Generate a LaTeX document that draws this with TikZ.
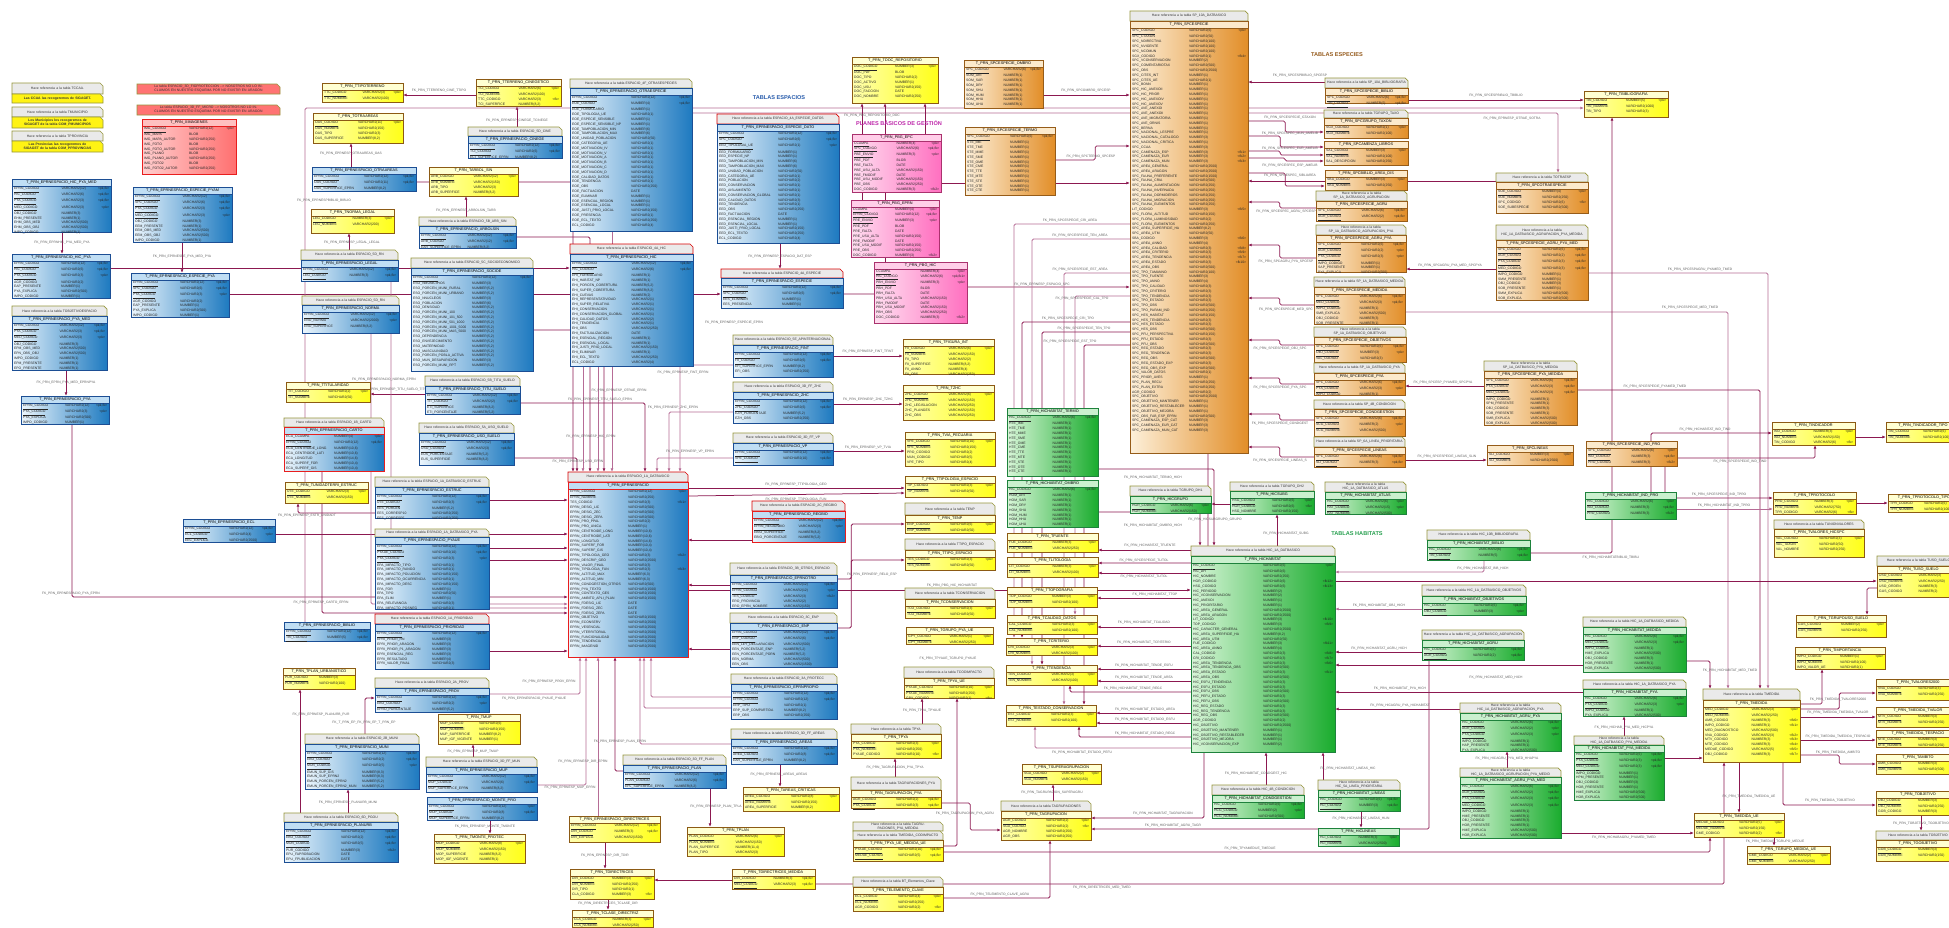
\documentclass[tikz,border=0pt]{standalone}
\usepackage{fontspec}
\setmainfont{Liberation Sans}
\usetikzlibrary{fit,arrows.meta}
\pgfdeclarelayer{bg}
\pgfsetlayers{bg,main}
\definecolor{blueL}{RGB}{236,246,253}\definecolor{blueD}{RGB}{30,122,192}\definecolor{blueH}{RGB}{192,222,244}\definecolor{blueB}{RGB}{28,78,148}
\colorlet{bluerL}{blueL}\colorlet{bluerD}{blueD}\colorlet{bluerH}{blueH}\definecolor{bluerB}{RGB}{232,30,30}
\definecolor{yelL}{RGB}{255,255,175}\definecolor{yelD}{RGB}{255,255,25}\definecolor{yelH}{RGB}{255,255,210}\definecolor{yelB}{RGB}{140,90,20}
\definecolor{orgL}{RGB}{253,240,218}\definecolor{orgD}{RGB}{226,142,40}\definecolor{orgH}{RGB}{252,234,204}\definecolor{orgB}{RGB}{150,92,25}
\definecolor{grnL}{RGB}{216,246,216}\definecolor{grnD}{RGB}{26,172,46}\definecolor{grnH}{RGB}{202,240,206}\definecolor{grnB}{RGB}{30,130,60}
\definecolor{pnkL}{RGB}{255,222,240}\definecolor{pnkD}{RGB}{255,112,192}\definecolor{pnkH}{RGB}{255,206,232}\definecolor{pnkB}{RGB}{170,50,110}
\definecolor{redL}{RGB}{255,206,206}\definecolor{redD}{RGB}{255,112,112}\definecolor{redH}{RGB}{255,192,192}\definecolor{redB}{RGB}{232,30,30}
\definecolor{notef}{RGB}{234,234,234}\definecolor{noteb}{RGB}{150,150,60}
\definecolor{fkc}{RGB}{140,24,80}\definecolor{fkc2}{RGB}{182,108,150}
\definecolor{secblue}{RGB}{40,92,172}\definecolor{secpink}{RGB}{190,40,170}\definecolor{secbrown}{RGB}{150,92,30}\definecolor{secgreen}{RGB}{40,160,80}
\newlength\tbw
\newlength\colw
\newcounter{lab}
\tikzset{
 ttl/.style={font=\fontsize{3.8}{4.4}\selectfont,inner sep=0pt,text=black},
 rws/.style={anchor=north west,inner sep=0pt,align=left,font=\fontsize{3.4}{4.8}\selectfont,text=black!85},
 ntxt/.style={inner sep=0pt,align=center,font=\fontsize{3.4}{4.1}\selectfont,text=black!80},
 note/.style={fill=notef,draw=noteb},
 noter/.style={fill=notef,draw=red!85!black},
 notey/.style={fill=yellow!92!white,draw=noteb},
 noterd/.style={fill=red!55!white,draw=noteb},
 fk/.style={draw=fkc,line width=.75pt,-{Latex[length=3.5pt,width=3pt]},rounded corners=1.5pt},
 fkb/.style={fk,draw=fkc2},
 fkl/.style={font=\fontsize{3.3}{4}\selectfont,text=black!62,inner sep=0pt},
 sect/.style={font=\bfseries\fontsize{5.6}{6.5}\selectfont,inner sep=0pt},
}
\newcommand\rw[2]{\makebox[\colw][l]{#1}#2}
\newcommand\rk[3]{\makebox[\colw][l]{\underline{#1}}#2\hfill#3}
\newcommand\VC[1]{VARCHAR2(#1)}
\newcommand\NU[1]{NUMBER(#1)}
\newcommand\tb[8]{%
 \shade[left color=#6L,right color=#6D] (#2,#3) rectangle (#4,#5);
 \fill[#6H] (#2,#3) rectangle (#4,#3+7);
 \draw[#6B,line width=.5pt] (#2,#3+7) -- (#4,#3+7);
 \draw[#6B,line width=.9pt] (#2,#3) rectangle (#4,#5);
 \node[ttl] (#1-t) at ({(#2+#4)/2},#3+3.6) {#7};
 \pgfmathsetlength\tbw{#4-#2-4}%
 \pgfmathsetlength\colw{0.5*(#4-#2-4)}%
 \node[rws,text width=\tbw] (#1-r) at (#2+2,#3+8) {#8};
 \node[fit={(#2,#3)(#4,#5)},inner sep=0pt] (#1) {};
}
\newcommand\nt[7][note]{%
 \filldraw[#1,line width=.7pt] (#3,#4) -- (#5-3,#4) -- (#5,#4+3) -- (#5,#6) -- (#3,#6) -- cycle;
 \pgfmathsetlength\tbw{#5-#3-3}%
 \node[ntxt,text width=\tbw] (#2-l) at ({(#3+#5)/2},{(#4+#6)/2}) {#7};
 \node[fit={(#3,#4)(#5,#6)},inner sep=0pt] (#2) {};
}
\newcommand\fkl[3]{\stepcounter{lab}\node[fkl] (lab\thelab) at (#1,#2) {#3};}
\begin{document}
\catcode`\_=12
\begin{tikzpicture}[x=1pt,y=-1pt]
\useasboundingbox (0,0) rectangle (1949,927);
% ---------------- notes top left
\nt{n1}{12}{83}{103}{94}{Hace referencia a la tabla TCCAA.}
\nt[notey]{n1y}{12}{94}{103}{103}{\textbf{Las CCAA las recogeremos de SIGAGET.}}
\nt{n2}{12}{107}{103}{117}{Hace referencia a la tabla TMUNICIPIO}
\nt[notey]{n2y}{12}{117}{103}{128}{\textbf{Los Municipios los recogeremos de SIGAGET de la tabla COM_PMUNICIPIOS}}
\nt{n3}{12}{131}{103}{141}{Hace referencia a la tabla TPROVINCIA}
\nt[notey]{n3y}{12}{141}{103}{152}{\textbf{Las Provincias las recogeremos de SIGAGET de la tabla COM_PPROVINCIAS}}
\nt[noterd]{n4}{137}{84}{280}{94}{La tabla ESPACIO_3D_FIGPROTECCION -{}-> NOSOTROS NO LO INCLUIMOS EN NUESTRO ESQUEMA POR NO EXISTIR EN ARAGON}
\nt[noterd]{n5}{137}{105}{280}{115}{La tabla ESPACIO_3D_FF_MICRO -{}-> NOSOTROS NO LO INCLUIMOS EN NUESTRO ESQUEMA POR NO EXISTIR EN ARAGON}
% ---------------- left tables
\tb{ximg}{142}{119}{236}{174}{red}{T_PRN_XIMAGENES}{\rk{IMG_CODIGO}{\VC{12}}{<pk>}\\\rw{IMG_MAPA}{BLOB}\\\rw{IMG_MAPA_AUTOR}{\VC{250}}\\\rw{IMG_FOTO}{BLOB}\\\rw{IMG_FOTO_AUTOR}{\VC{250}}\\\rw{IMG_PLANO}{BLOB}\\\rw{IMG_PLANO_AUTOR}{\VC{250}}\\\rw{IMG_FOTO2}{BLOB}\\\rw{IMG_FOTO2_AUTOR}{\VC{250}}}
\tb{hpm}{12}{179}{111}{232}{blue}{T_PRN_EPRNESPACIO_HIC_PYA_MED}{\rk{EPRN_CODIGO}{\VC{12}}{<pk,fk>}\\\rk{HIC_CODIGO}{\VC{6}}{<pk,fk>}\\\rk{PYA_CODIGO}{\VC{3}}{<pk,fk>}\\\rk{MED_CODIGO}{\VC{3}}{<pk>}\\\rw{OBJ_CODIGO}{\NU{3}}\\\rw{EHM_PRESENTE}{\NU{1}}\\\rw{EHM_OBS_MED}{\VC{500}}\\\rw{EHM_OBS_OBJ}{\VC{500}}\\\rw{IMPO_CODIGO}{\NU{1}}}
\tb{epyam}{133}{187}{232}{242}{blue}{T_PRN_EPRNESPACIO_ESPECIE_PYAM}{\rk{EPRN_CODIGO}{\VC{12}}{<pk,fk>}\\\rk{SPC_CODIGO}{\VC{6}}{<pk,fk>}\\\rk{PYA_CODIGO}{\VC{3}}{<pk,fk>}\\\rk{MED_CODIGO}{\VC{3}}{<pk>}\\\rw{OBJ_CODIGO}{\NU{3}}\\\rw{EEM_PRESENTE}{\NU{1}}\\\rw{EEM_OBS_MED}{\VC{500}}\\\rw{EEM_OBS_OBJ}{\VC{500}}\\\rw{IMPO_CODIGO}{\NU{1}}}
\tb{hpya}{12}{254}{110}{298}{blue}{T_PRN_EPRNESPACIO_HIC_PYA}{\rk{EPRN_CODIGO}{\VC{12}}{<pk,fk>}\\\rk{HIC_CODIGO}{\VC{6}}{<pk,fk>}\\\rk{PYA_CODIGO}{\VC{3}}{<pk>}\\\rw{AGR_CODIGO}{\VC{2}}\\\rw{EAP_PRESENTE}{\NU{1}}\\\rw{PYA_EXPLICA}{\VC{500}}\\\rw{IMPO_CODIGO}{\NU{1}}}
\nt{pyamedn}{12}{306}{107}{316}{Hace referencia a la tabla TOBJETIVOESPACIO}
\tb{pyamed}{12}{316}{107}{370}{blue}{T_PRN_EPRNESPACIO_PYA_MED}{\rk{EPRN_CODIGO}{\VC{12}}{<pk,fk>}\\\rk{PYA_CODIGO}{\VC{3}}{<pk,fk>}\\\rk{MED_CODIGO}{\VC{3}}{<pk>}\\\rw{OBJ_CODIGO}{\NU{3}}\\\rw{EPM_OBS_MED}{\VC{500}}\\\rw{EPN_OBS_OBJ}{\VC{500}}\\\rw{IMPO_CODIGO}{\NU{1}}\\\rw{EPM_PRESENTE}{\NU{1}}\\\rw{EPO_PRESENTE}{\NU{1}}}
\tb{epya}{131}{273}{229}{317}{blue}{T_PRN_EPRNESPACIO_ESPECIE_PYA}{\rk{EPRN_CODIGO}{\VC{12}}{<pk,fk>}\\\rk{SPC_CODIGO}{\VC{6}}{<pk,fk>}\\\rk{PYA_CODIGO}{\VC{3}}{<pk>}\\\rw{AGR_CODIGO}{\VC{2}}\\\rw{EAP_PRESENTE}{\NU{1}}\\\rw{PYA_EXPLICA}{\VC{500}}\\\rw{IMPO_CODIGO}{\NU{1}}}
\tb{eppya}{21}{396}{109}{424}{blue}{T_PRN_EPRNESPACIO_PYA}{\rk{EPRN_CODIGO}{\VC{12}}{<pk,fk>}\\\rk{PYA_CODIGO}{\VC{3}}{<pk>}\\\rw{PYA_EXPLICA}{\VC{500}}\\\rw{IMPO_CODIGO}{\NU{1}}}
\tb{ttipoter}{322}{83}{403}{102}{yel}{T_PRN_TTIPOTERRENO}{\rk{TTC_CODIGO}{\VC{3}}{<pk>}\\\rw{TTC_NOMBRE}{\VC{100}}}
\tb{tcine}{476}{79}{561}{106}{yel}{T_PRN_TTERRENO_CINEGETICO}{\rk{TCI_CODIGO}{\VC{6}}{<pk>}\\\rw{TCI_NOMBRE}{\VC{100}}\\\rw{TTC_CODIGO}{\VC{3}}\hfill<fk>\\\rw{TCI_SUPERFICE}{\NU{8,2}}}
\tb{totra}{313}{113}{403}{143}{yel}{T_PRN_TOTRAAREAS}{\rk{OAS_CODIGO}{\VC{11}}{<pk>}\\\rw{OAS_NOMBRE}{\VC{150}}\\\rw{OAS_TIPO}{\VC{3}}\\\rw{OAS_SUPERFICE}{\NU{8,2}}}
\tb{eotra}{312}{167}{416}{191}{blue}{T_PRN_EPRNESPACIO_OTRAAREAS}{\rk{EPRN_CODIGO}{\VC{12}}{<pk,fk>}\\\rk{OAS_CODIGO}{\VC{11}}{<pk,fk>}\\\rw{OAS_SUPERFICE_EPRN}{\NU{8,2}}}
\nt{ecinen}{468}{127}{562}{136}{Hace referencia a la tabla ESPACIO_5D_CINE}
\tb{ecine}{468}{136}{562}{158}{blue}{T_PRN_EPRNESPACIO_CINEGE}{\rk{EPRN_CODIGO}{\VC{12}}{<pk,fk>}\\\rk{TCI_CODIGO}{\VC{6}}{<pk,fk>}\\\rw{ECI_SUPERFICE_EPRN}{\NU{8,2}}}
\tb{tarbol}{429}{167}{518}{196}{yel}{T_PRN_TARBOL_SIN}{\rk{ARB_CODIGO}{\VC{12}}{<pk>}\\\rw{ARB_NOMBRE}{\VC{150}}\\\rw{ARB_TIPO}{\VC{3}}\\\rw{ARB_SUPERFICE}{\NU{8,2}}}
\nt{earbn}{419}{217}{516}{226}{Hace referencia a la tabla ESPACIO_5B_ARB_SIN}
\tb{earb}{419}{226}{516}{248}{blue}{T_PRN_EPRNESPACIO_ARBOLSIN}{\rk{EPRN_CODIGO}{\VC{12}}{<pk,fk>}\\\rk{ARB_CODIGO}{\VC{12}}{<pk,fk>}\\\rw{EAR_SUPERFICE_EPRN}{\NU{8,2}}}
\tb{tnorma}{311}{209}{394}{233}{yel}{T_PRN_TNORMA_LEGAL}{\rk{LEG_CODIGO}{\NU{3}}{<pk>}\\\rw{LEG_NOMBRE}{\VC{200}}}
\nt{elegaln}{301}{250}{398}{260}{Hace referencia a la tabla ESPACIO_5D_RN}
\tb{elegal}{301}{260}{398}{281}{blue}{T_PRN_EPRNESPACIO_LEGAL}{\rk{EPRN_CODIGO}{\VC{12}}{<pk,fk>}\\\rk{LEG_CODIGO}{\NU{3}}{<pk,fk>}}
\nt{enorman}{302}{296}{399}{305}{Hace referencia a la tabla ESPACIO_5D_RN}
\tb{enorma}{302}{305}{399}{333}{blue}{T_PRN_EPRNESPACIO_NORMA}{\rk{EPRN_CODIGO}{\VC{12}}{<pk,fk>}\\\rk{ENO_NORMA}{\VC{2000}}{<pk>}\\\rw{ENO_SUPERFICE}{\NU{8,2}}}
\nt{esocion}{411}{258}{533}{268}{Hace referencia a la tabla ESPACIO_5C_SOCIOECONOMICO}
\tb{esocio}{411}{268}{533}{371}{blue}{T_PRN_EPRNESPACIO_SOCIOE}{\rk{EPRN_CODIGO}{\VC{12}}{<pk,fk>}\\\rw{ESO_NMUNICIPIOS}{\NU{3}}\\\rw{ESO_PORCEN_MUNI_RURAL}{\NU{5,2}}\\\rw{ESO_PORCEN_MUNI_URBANO}{\NU{5,2}}\\\rw{ESO_NNUCLEOS}{\NU{3}}\\\rw{ESO_POBLACION}{\NU{6}}\\\rw{ESO_DENSIDAD}{\NU{5,2}}\\\rw{ESO_PORCEN_MUNI_100}{\NU{5,2}}\\\rw{ESO_PORCEN_MUNI_101_500}{\NU{5,2}}\\\rw{ESO_PORCEN_MUNI_501_1000}{\NU{5,2}}\\\rw{ESO_PORCEN_MUNI_1001_5000}{\NU{5,2}}\\\rw{ESO_PORCEN_MUNI_MAS_5000}{\NU{5,2}}\\\rw{ESO_DEPENDENCIA}{\NU{5,2}}\\\rw{ESO_ENVEJECIMIENTO}{\NU{5,2}}\\\rw{ESO_MATERNIDAD}{\NU{5,2}}\\\rw{ESO_MASCULINIDAD}{\NU{5,2}}\\\rw{ESO_PORCEN_POBLA_ACTIVA}{\NU{5,2}}\\\rw{ESO_MUN_DESAPARICION}{\NU{3}}\\\rw{ESO_PORCEN_MUNI_RPT}{\NU{5,2}}}
\tb{ttitu}{286}{382}{370}{402}{yel}{T_PRN_TTITULARIDAD}{\rk{TIT_CODIGO}{\VC{2}}{<pk>}\\\rw{TIT_NOMBRE}{\VC{50}}}
\nt{etitun}{425}{376}{520}{386}{Hace referencia a la tabla ESPACIO_5B_TITU_SUELO}
\tb{etitu}{425}{386}{520}{414}{blue}{T_PRN_EPRNESPACIO_TITU_SUELO}{\rk{EPRN_CODIGO}{\VC{12}}{<pk,fk>}\\\rk{TIT_CODIGO}{\VC{2}}{<pk,fk>}\\\rw{ETI_SUPERFICE}{\NU{8,2}}\\\rw{ETI_PORCENTAJE}{\NU{5,2}}}
\nt{ecarton}{284}{418}{384}{427}{Hace referencia a la tabla ESPACIO_1B_CARTO}
\tb{ecarto}{284}{427}{384}{471}{bluer}{T_PRN_EPRNESPACIO_CARTO}{\rk{ECA_CCAMPA}{\NU{4}}{<pk>}\\\rk{EPRN_CODIGO}{\VC{12}}{<pk,fk>}\\\rw{ECA_CENTROIDE_LONG}{\NU{10,6}}\\\rw{ECA_CENTROIDE_LATI}{\NU{10,6}}\\\rw{ECA_LONGITUD}{\NU{14,6}}\\\rw{ECA_SUPERF_FOR}{\NU{10,4}}\\\rw{ECA_SUPERF_GIS}{\NU{10,4}}}
\nt{euson}{419}{423}{514}{433}{Hace referencia a la tabla ESPACIO_5A_USO_SUELO}
\tb{euso}{419}{433}{514}{465}{blue}{T_PRN_EPRNESPACIO_USO_SUELO}{\rk{EPRN_CODIGO}{\VC{12}}{<pk,fk>}\\\rk{USO_CODIGO}{\VC{3}}{<pk,fk>}\\\rw{EUS_PORCENTAJE}{\NU{5,2}}\\\rw{EUS_SUPERFICIE}{\NU{8,2}}}
\tb{tunid}{285}{482}{368}{503}{yel}{T_PRN_TUNIDADTERRI_ESTRUC}{\rk{UTE_CODIGO}{\VC{3}}{<pk>}\\\rw{UTE_NOMBRE}{\VC{150}}}
\nt{eestrucn}{375}{477}{489}{487}{Hace referencia a la tabla ESPACIO_1A_DATBASICO_ESTRUC}
\tb{eestruc}{375}{487}{489}{518}{blue}{T_PRN_EPRNESPACIO_ESTRUC}{\rk{EPRN_CODIGO}{\VC{12}}{<pk,fk>}\\\rk{UTE_CODIGO}{\VC{3}}{<pk,fk>}\\\rw{EES_PORCEN}{\NU{5,2}}\\\rw{EES_CORRESP10}{\VC{250}}\\\rw{EES_CORRESP5}{\VC{250}}}
\tb{eecl}{183}{519}{275}{542}{blue}{T_PRN_EPRNESPACIO_ECL}{\rk{EPRN_CODIGO}{\VC{12}}{<pk,fk>}\\\rk{ECL_CODIGO}{\VC{4}}{<pk>}\\\rw{EEC_EXPLICA}{\VC{2500}}}
\nt{epyauen}{375}{529}{489}{537}{Hace referencia a la tabla ESPACIO_1A_DATBASICO_PYA}
\tb{epyaue}{375}{537}{489}{609}{blue}{T_PRN_EPRNESPACIO_PYAUE}{\rk{EPRN_CODIGO}{\VC{12}}{<pk,fk>}\\\rk{PYAUE_CODIGO}{\VC{10}}{<pk,fk>}\\\rk{PYA_CODIGO}{\VC{3}}{<pk>}\\\rw{EPA_IMPACTO_TIPO}{\VC{1}}\\\rw{EPA_IMPACTO_RANGO}{\VC{1}}\\\rw{EPA_IMPACTO_POLUCION}{\VC{150}}\\\rw{EPA_IMPACTO_OCURRENCIA}{\VC{1}}\\\rw{EPA_IMPACTO_DESC}{\VC{150}}\\\rw{EPA_FOR}{\NU{1}}\\\rw{EPA_TIPO}{\VC{50}}\\\rw{EPA_ELIM}{\NU{1}}\\\rw{EPA_RELEVANCIA}{\VC{3}}\\\rw{EPA_IMPACTO_POSNEG}{\VC{1}}}
\nt[noter]{epriorn}{375}{614}{489}{624}{Hace referencia a la tabla ESPACIO_1A_PRIORIDAD}
\tb{eprior}{375}{624}{489}{669}{blue}{T_PRN_EPRNESPACIO_PRIORIDAD}{\rk{EPRN_CODIGO}{\VC{12}}{<pk,fk>}\\\rw{EPRI_PRIOR_RN}{\NU{3}}\\\rw{EPRI_PRIOR_ARAGON}{\NU{3}}\\\rw{EPRI_PRIOR_P1_ARAGON}{\NU{3}}\\\rw{EPRI_ESENCIAL_REG}{\NU{3}}\\\rw{EPRI_RESULTADO}{\NU{4}}\\\rw{EPRI_VALOR_FINAL}{\VC{3}}}
\tb{ebiblio}{284}{622}{370}{641}{blue}{T_PRN_EPRNESPACIO_BIBLIO}{\rk{EPRN_CODIGO}{\VC{12}}{<pk,fk>}\\\rk{TBI_CODIGO}{\NU{5}}{<pk,fk>}}
\tb{tplanurb}{283}{668}{355}{689}{yel}{T_PRN_TPLAN_URBANISTICO}{\rk{PUR_CODIGO}{\NU{3}}{}\\\rw{PUR_NOMBRE}{\VC{100}}}
\nt{eprovn}{375}{678}{489}{688}{Hace referencia a la tabla ESPACIO_2A_PROV}
\tb{eprov}{375}{688}{489}{712}{blue}{T_PRN_EPRNESPACIO_PROV}{\rk{EPRN_CODIGO}{\VC{12}}{<pk,fk>}\\\rk{EBO_CODIGO}{\VC{2}}{<pk>}\\\rw{EPRO_PORCENTAJE}{\NU{5,2}}}
\tb{tmup}{438}{714}{520}{744}{yel}{T_PRN_TMUP}{\rk{MUP_CODIGO}{\VC{6}}{}\\\rw{MUP_NOMBRE}{\VC{150}}\\\rw{MUP_SUPERFICIE}{\NU{8,2}}\\\rw{MUP_IGF_VIGENTE}{\NU{1}}}
\nt{emunin}{305}{734}{419}{744}{Hace referencia a la tabla ESPACIO_2B_MUNI}
\tb{emuni}{305}{744}{419}{789}{blue}{T_PRN_EPRNESPACIO_MUNI}{\rk{EPRN_CODIGO}{\VC{12}}{<pk,fk>}\\\rk{EBO_CODIGO}{\VC{2}}{<pk,fk>}\\\rk{MUN_CODIGO}{\VC{5}}{<pk>}\\\rw{EMUN_SUP_GIS}{\NU{8,3}}\\\rw{EMUN_SUP_EPRN2}{\NU{8,3}}\\\rw{EMUN_PORCEN_EPRN2}{\NU{5,2}}\\\rw{EMUN_PORCEN_EPRN2_MUN}{\NU{5,2}}}
\nt{emupn}{426}{757}{537}{767}{Hace referencia a la tabla ESPACIO_3D_FF_MUN}
\tb{emup}{426}{767}{537}{792}{blue}{T_PRN_EPRNESPACIO_MUP}{\rk{EPRN_CODIGO}{\VC{12}}{<pk,fk>}\\\rk{MUP_CODIGO}{\VC{6}}{<pk,fk>}\\\rw{MUP_SUPERFICE_EPRN}{\NU{8,2}}}
\tb{emonte}{427}{797}{537}{820}{blue}{T_PRN_EPRNESPACIO_MONTE_PRO}{\rk{EPRN_CODIGO}{\VC{12}}{<pk>}\\\rk{MOP_CODIGO}{\VC{8}}{<pk,fk>}\\\rw{MOP_SUPERFICE_EPRN}{\NU{8,2}}}
\nt{eplanurbn}{284}{813}{398}{822}{Hace referencia a la tabla ESPACIO_6D_PGOU}
\tb{eplanurb}{284}{822}{398}{862}{blue}{T_PRN_EPRNESPACIO_PLANURB}{\rk{EPRN_CODIGO}{\VC{12}}{<pk,fk>}\\\rk{EBO_CODIGO}{\VC{2}}{<pk,fk>}\\\rk{MUN_CODIGO}{\VC{5}}{<pk,fk>}\\\rw{PUR_CODIGO}{\NU{3}}\hfill<fk2>\\\rw{EPU_FAPROBACION}{DATE}\\\rw{EPU_FPUBLICACION}{DATE}}
\tb{tmonte}{434}{834}{525}{863}{yel}{T_PRN_TMONTE_PROTEC}{\rk{MOP_CODIGO}{\VC{8}}{<pk>}\\\rw{MOP_NOMBRE}{\VC{150}}\\\rw{MOP_SUPERFICIE}{\NU{8,2}}\\\rw{MOP_IGF_VIGENTE}{\NU{1}}}
\tb{edir}{569}{816}{660}{842}{yel}{T_PRN_EPRNESPACIO_DIRECTRICES}{\rk{EPRN_CODIGO}{\VC{12}}{<pk,fk>}\\\rk{DIR_CODIGO}{\NU{3}}{<pk,fk>}\\\rw{DIR_EXPLICA}{\VC{1500}}}
\tb{tdir}{570}{869}{654}{899}{yel}{T_PRN_TDIRECTRICES}{\rk{DIR_CODIGO}{\NU{3}}{<pk>}\\\rw{DIR_NOMBRE}{\VC{250}}\\\rw{DIR_TIPO}{\VC{1}}\\\rw{CLA_CODIGO}{\NU{3}}\hfill<fk>}
\tb{tclase}{572}{910}{653}{927}{yel}{T_PRN_TCLASE_DIRECTRIZ}{\rk{CLA_CODIGO}{\NU{3}}{<pk>}\\\rw{CLA_NOMBRE}{\VC{250}}}
\nt{eplann}{623}{755}{726}{765}{Hace referencia a la tabla ESPACIO_3D_FF_PLAN}
\tb{eplan}{623}{765}{726}{788}{blue}{T_PRN_EPRNESPACIO_PLAN}{\rk{EPRN_CODIGO}{\VC{12}}{<pk,fk>}\\\rk{PLAN_CODIGO}{\VC{6}}{<pk,fk>}\\\rw{EPL_SUPERFICE_EPRN}{\NU{8,2}}}
\tb{tplan}{687}{827}{784}{856}{yel}{T_PRN_TPLAN}{\rk{PLAN_CODIGO}{\VC{6}}{<pk>}\\\rw{PLAN_NOMBRE}{\VC{150}}\\\rw{PLAN_SUPERFICE}{\NU{11,4}}\\\rw{PLAN_TIPO}{\VC{3}}}
% ---------------- middle blue tables
\nt{eotraespn}{570}{79}{692}{88}{Hace referencia a la tabla ESPACIO_4F_OTRASESPECIES}
\tb{eotraesp}{570}{88}{692}{231}{blue}{T_PRN_EPRNESPACIO_OTRAESPECIE}{\rk{EPRN_CODIGO}{\VC{12}}{<pk,fk>}\\\rk{EOE_CODIGO}{\NU{4}}{<pk,fk>}\\\rw{EOE_FORMULARIO}{\NU{1}}\\\rw{EOE_TIPOLOGIA_UE}{\VC{1}}\\\rw{EOE_ESPECIE_SENSIBLE}{\NU{1}}\\\rw{EOE_ESPECIE_SENSIBLE_NP}{\NU{1}}\\\rw{EOE_TAMPOBLACION_MIN}{\NU{6}}\\\rw{EOE_TAMPOBLACION_MAX}{\NU{6}}\\\rw{EOE_UNIDAD_POBLACION}{\VC{50}}\\\rw{EOE_CATEGORIA_UE}{\VC{1}}\\\rw{EOE_MOTIVACION_IV}{\VC{1}}\\\rw{EOE_MOTIVACION_V}{\VC{1}}\\\rw{EOE_MOTIVACION_A}{\VC{1}}\\\rw{EOE_MOTIVACION_B}{\VC{1}}\\\rw{EOE_MOTIVACION_C}{\VC{1}}\\\rw{EOE_MOTIVACION_D}{\VC{1}}\\\rw{EOE_CALIDAD_DATOS}{\VC{1}}\\\rw{EOE_TENDENCIA}{\VC{1}}\\\rw{EOE_OBS}{\VC{250}}\\\rw{EOE_FACTUACION}{DATE}\\\rw{EOE_ELIMINAR}{\NU{1}}\\\rw{EOE_ESENCIAL_REGION}{\NU{1}}\\\rw{EOE_ESENCIAL_LOCAL}{\NU{1}}\\\rw{EOE_JUSTI_PRIO_LOCAL}{\VC{150}}\\\rw{EOE_PRESENCIA}{\VC{1}}\\\rw{EOE_ECL_TEXTO}{\VC{250}}\\\rw{ECL_CODIGO}{\VC{4}}}
\nt[noter]{ehicn}{570}{244}{693}{254}{Hace referencia a la tabla ESPACIO_4A_HIC}
\tb{ehic}{570}{254}{693}{366}{blue}{T_PRN_EPRNESPACIO_HIC}{\rk{EPRN_CODIGO}{\VC{12}}{<pk,fk>}\\\rk{HIC_CODIGO}{\VC{6}}{<pk,fk>}\\\rw{EHI_FORMULARIO}{\NU{1}}\\\rw{EHI_HABITAT_NP}{\NU{1}}\\\rw{EHI_PORCEN_COBERTURA}{\NU{6,2}}\\\rw{EHI_SUPER_COBERTURA}{\NU{8,2}}\\\rw{EHI_CUEVAS}{\NU{2}}\\\rw{EHI_REPRESENTATIVIDAD}{\VC{1}}\\\rw{EHI_SUPER_RELATIVA}{\VC{1}}\\\rw{EHI_CONSERVACION}{\VC{1}}\\\rw{EHI_CONSERVACION_GLOBAL}{\VC{1}}\\\rw{EHI_CALIDAD_DATOS}{\VC{2}}\\\rw{EHI_TENDENCIA}{\VC{1}}\\\rw{EHI_OBS}{\VC{250}}\\\rw{EHI_FACTUALIZACION}{DATE}\\\rw{EHI_ESENCIAL_REGION}{\NU{1}}\\\rw{EHI_ESENCIAL_LOCAL}{\NU{1}}\\\rw{EHI_JUSTI_PRIO_LOCAL}{\VC{150}}\\\rw{EHI_ELIMINAR}{\NU{1}}\\\rw{EHI_ECL_TEXTO}{\VC{250}}\\\rw{ECL_CODIGO}{\VC{4}}}
\nt[noter]{edaton}{717}{114}{839}{124}{Hace referencia a la tabla ESPACIO_4A_ESPECIE_DATOS}
\tb{edato}{717}{124}{839}{243}{blue}{T_PRN_EPRNESPACIO_ESPECIE_DATO}{\rk{EPRN_CODIGO}{\VC{12}}{<pk,fk>}\\\rk{SPC_CODIGO}{\VC{6}}{<pk,fk>}\\\rk{EED_TIPOLOGIA_UE}{\VC{1}}{<pk>}\\\rw{EED_FORMULARIO}{\NU{1}}\\\rw{EED_ESPECIE_NP}{\NU{1}}\\\rw{EED_TAMPOBLACION_MIN}{\NU{6}}\\\rw{EED_TAMPOBLACION_MAX}{\NU{6}}\\\rw{EED_UNIDAD_POBLACION}{\VC{50}}\\\rw{EED_CATEGORIA_UE}{\VC{1}}\\\rw{EED_POBLACION}{\VC{2}}\\\rw{EED_CONSERVACION}{\VC{1}}\\\rw{EED_AISLAMIENTO}{\VC{1}}\\\rw{EED_CONSERVACION_GLOBAL}{\VC{1}}\\\rw{EED_CALIDAD_DATOS}{\VC{3}}\\\rw{EED_TENDENCIA}{\VC{1}}\\\rw{EED_OBS}{\VC{250}}\\\rw{EED_FACTUACION}{DATE}\\\rw{EED_ESENCIAL_REGION}{\NU{1}}\\\rw{EED_ESENCIAL_LOCAL}{\NU{1}}\\\rw{EED_JUSTI_PRIO_LOCAL}{\VC{150}}\\\rw{EED_ECL_TEXTO}{\VC{250}}\\\rw{ECL_CODIGO}{\VC{4}}}
\nt[noter]{eespn}{721}{269}{843}{278}{Hace referencia a la tabla ESPACIO_4A_ESPECIE}
\tb{eesp}{721}{278}{843}{308}{blue}{T_PRN_EPRNESPACIO_ESPECIE}{\rk{EPRN_CODIGO}{\VC{12}}{<pk,fk>}\\\rk{SPC_CODIGO}{\VC{6}}{<pk,fk>}\\\rw{EES_ELIMINAR}{\NU{1}}\\\rw{EES_PRESENCIA}{\NU{1}}}
\nt{efintn}{733}{335}{833}{345}{Hace referencia a la tabla ESPACIO_5E_APINTERNACIONAL}
\tb{efint}{733}{345}{833}{377}{blue}{T_PRN_EPRNESPACIO_FINT}{\rk{EPRN_CODIGO}{\VC{12}}{<pk,fk>}\\\rk{FII_CODIGO}{\VC{6}}{<pk,fk>}\\\rw{EFI_SUPERFICE_EPRN}{\NU{8,2}}\\\rw{EFI_OBS}{\VC{250}}}
\nt{ezhcn}{733}{382}{833}{392}{Hace referencia a la tabla ESPACIO_3D_FF_ZHC}
\tb{ezhc}{733}{392}{833}{423}{blue}{T_PRN_EPRNESPACIO_ZHC}{\rk{EPRN_CODIGO}{\VC{12}}{<pk,fk>}\\\rk{ZHC_CODIGO}{\VC{6}}{<pk,fk>}\\\rw{EZH_PORCENTAJE}{\NU{5,2}}\\\rw{EZH_OBS}{\VC{250}}}
\nt{evpn}{733}{433}{833}{443}{Hace referencia a la tabla ESPACIO_3D_FF_VP}
\tb{evp}{733}{443}{833}{465}{blue}{T_PRN_EPRNESPACIO_VP}{\rk{EPRN_CODIGO}{\VC{12}}{<pk,fk>}\\\rk{VPE_CODIGO}{\VC{10}}{<pk,fk>}}
\nt[noter]{eprnn}{568}{472}{688}{482}{Hace referencia a la tabla ESPACIO_1A_DATBASICO}
\tb{eprn}{568}{482}{688}{657}{bluer}{T_PRN_EPRNESPACIO}{\rk{EPRN_CODIGO}{\VC{12}}{<pk>}\\\rw{EPRN_NOMBRE}{\VC{250}}\\\rw{TES_CODIGO}{\VC{3}}\hfill<fk1>\\\rw{EPRN_DESIG_LIC}{\VC{500}}\\\rw{EPRN_DESIG_ZEC}{\VC{500}}\\\rw{EPRN_DESIG_ZEPA}{\VC{500}}\\\rw{EPRN_PRO_PPAL}{\VC{2}}\\\rw{EPRN_PRO_UNICA}{\NU{1}}\\\rw{EPRN_CENTROIDE_LONG}{\NU{10,6}}\\\rw{EPRN_CENTROIDE_LATI}{\NU{10,6}}\\\rw{EPRN_LONGITUD}{\NU{14,6}}\\\rw{EPRN_SUPERF_FOR}{\NU{10,4}}\\\rw{EPRN_SUPERF_GIS}{\NU{10,4}}\\\rw{EPRN_TIPOLOGIA_GEO}{\VC{3}}\hfill<fk2>\\\rw{EPRN_DESCRIP_GEO}{\VC{2500}}\\\rw{EPRN_VALOR_FINAL}{\VC{3}}\\\rw{EPRN_TIPOLOGIA_FUN}{\VC{3}}\hfill<fk3>\\\rw{EPRN_ALTITUD_MAX}{\NU{6,3}}\\\rw{EPRN_ALTITUD_MIN}{\NU{6,3}}\\\rw{EPRN_CONDGESTION_OTROS}{\VC{500}}\\\rw{EPRN_PYA_TEXTO}{\VC{1500}}\\\rw{EPRN_CONTEXTO_GES}{\VC{1500}}\\\rw{EPRN_AMBITO_APLI_PLAN}{\VC{1500}}\\\rw{EPRN_FDESIG_LIC}{DATE}\\\rw{EPRN_FDESIG_ZEC}{DATE}\\\rw{EPRN_FDESIG_ZEPA}{DATE}\\\rw{EPRN_OBJETIVO}{\VC{1500}}\\\rw{EPRN_ECONSERV}{\VC{2500}}\\\rw{EPRN_VESENCIAL}{\VC{2500}}\\\rw{EPRN_VTERRITORIAL}{\VC{2500}}\\\rw{EPRN_FUNCIONALIDAD}{\VC{2500}}\\\rw{EPRN_TENDENCIA}{\VC{2500}}\\\rw{EPRN_IMAGENID}{\VC{2500}}}
\nt[noter]{eregbion}{752}{501}{845}{511}{Hace referencia a la tabla ESPACIO_2C_REGBIO}
\tb{eregbio}{752}{511}{845}{542}{bluer}{T_PRN_EPRNESPACIO_REGBIO}{\rk{EPRN_CODIGO}{\VC{12}}{<pk,fk>}\\\rk{EPRN_REGIONBIO}{\VC{3}}{<pk>}\\\rw{EBIO_SUPERFICE}{\NU{8,2}}\\\rw{EBIO_PORCENTAJE}{\NU{5,2}}}
\nt{eotron}{730}{563}{837}{575}{Hace referencia a la tabla ESPACIO_3B_OTROS_ESPACIO}
\tb{eotro}{730}{575}{837}{608}{blue}{T_PRN_EPRNESPACIO_EPRNOTRO}{\rk{EPRN_CODIGO}{\VC{12}}{<pk,fk>}\\\rk{EPRN_CODIGO}{\VC{12}}{<pk>}\\\rw{TES_CODIGO}{\VC{3}}\hfill<fk2>\\\rw{ERO_PROVINCIA}{\VC{2}}\\\rw{ERO_EPRN_NOMBRE}{\VC{150}}}
\nt{eenpn}{730}{613}{837}{623}{Hace referencia a la tabla ESPACIO_3C_ENP}
\tb{eenp}{730}{623}{837}{667}{blue}{T_PRN_EPRNESPACIO_ENP}{\rk{EPRN_CODIGO}{\VC{12}}{<pk,fk>}\\\rk{ENP_CODIGO}{\VC{6}}{<pk,fk>}\\\rw{EEN_LEY_DECLARACION}{\VC{500}}\\\rw{EEN_PORCENTAJE_ENP}{\NU{5,2}}\\\rw{EEN_PORCENTAJE_PORN}{\NU{5,2}}\\\rw{EEN_NORMA}{\VC{500}}\\\rw{EEN_OBS}{\VC{1500}}}
\nt{epropn}{731}{674}{837}{684}{Hace referencia a la tabla ESPACIO_3A_PROTECC}
\tb{eprop}{731}{684}{837}{719}{blue}{T_PRN_EPRNESPACIO_EPRNPROPIO}{\rk{EPRN_CODIGO}{\VC{12}}{<pk,fk>}\\\rk{EPRN_CODIGO}{\VC{12}}{<pk,fk>}\\\rw{ERP_TIPO}{\VC{1}}\\\rw{ERP_SUP_COMPARTIDA}{\NU{8,2}}\\\rw{ERP_OBS}{\VC{250}}}
\nt{eareasn}{731}{729}{837}{739}{Hace referencia a la tabla ESPACIO_3D_FF_AREAS}
\tb{eareas}{731}{739}{837}{764}{blue}{T_PRN_EPRNESPACIO_AREAS}{\rk{EPRN_CODIGO}{\VC{12}}{<pk,fk>}\\\rk{AREA_CODIGO}{\VC{8}}{<pk,fk>}\\\rw{EAR_SUPERFICE_EPRN}{\NU{8,2}}}
\tb{tareas}{743}{787}{839}{811}{yel}{T_PRN_TAREAS_CRITICAS}{\rk{AREA_CODIGO}{\VC{8}}{<pk>}\\\rw{AREA_NOMBRE}{\VC{150}}\\\rw{AREA_SUPERFICIE}{\NU{8,2}}}
\tb{tdirmed}{732}{869}{815}{889}{yel}{T_PRN_TDIRECTRICES_MEDIDA}{\rk{DIR_CODIGO}{\NU{3}}{<pk,fk>}\\\rk{MED_CODIGO}{\VC{3}}{<pk,fk>}}
% ---------------- yellow lookups middle
\tb{tfig}{903}{339}{994}{374}{yel}{T_PRN_TFIGURA_INT}{\rk{FII_CODIGO}{\VC{6}}{<pk>}\\\rw{FII_NOMBRE}{\VC{150}}\\\rw{FII_TIPO}{\VC{2}}\\\rw{FII_SUPERFICE}{\NU{8,2}}\\\rw{FII_ANNO}{\NU{4}}\\\rw{FII_OBS}{\VC{250}}}
\tb{tzhc}{903}{385}{994}{420}{yel}{T_PRN_TZHC}{\rk{ZHC_CODIGO}{\VC{6}}{<pk>}\\\rw{ZHC_NOMBRE}{\VC{150}}\\\rw{ZHC_LEGISLACION}{\VC{250}}\\\rw{ZHC_PLANGES}{\VC{150}}\\\rw{ZHC_OBS}{\VC{250}}}
\tb{tvia}{905}{432}{995}{466}{yel}{T_PRN_TVIA_PECUARIA}{\rk{VPE_CODIGO}{\VC{10}}{<pk>}\\\rw{VPE_NOMBRE}{\VC{150}}\\\rw{PRO_CODIGO}{\VC{2}}\\\rw{MUN_CODIGO}{\VC{5}}\\\rw{VPE_TIPO}{\VC{4}}}
\tb{ttipol}{905}{476}{995}{497}{yel}{T_PRN_TTIPOLOGIA_ESPACIO}{\rk{TIP_CODIGO}{\VC{3}}{<pk>}\\\rw{TIP_NOMBRE}{\VC{50}}}
\nt{tenpn}{905}{503}{995}{515}{Hace referencia a la tabla TENP}
\tb{tenp}{905}{515}{995}{533}{yel}{T_PRN_TENP}{\rk{ENP_CODIGO}{\VC{6}}{<pk>}\\\rw{ENP_NOMBRE}{\VC{50}}}
\nt{ttipoespn}{905}{539}{995}{550}{Hace referencia a la tabla TTIPO_ESPACIO}
\tb{ttipoesp}{905}{550}{995}{570}{yel}{T_PRN_TTIPO_ESPACIO}{\rk{TES_CODIGO}{\VC{3}}{<pk>}\\\rw{TES_NOMBRE}{\VC{50}}}
\nt{tconsn}{905}{588}{995}{599}{Hace referencia a la tabla TCONSERVACION}
\tb{tcons}{905}{599}{995}{618}{yel}{T_PRN_TCONSERVACION}{\rk{TCO_CODIGO}{\VC{3}}{<pk>}\\\rw{TCO_NOMBRE}{\VC{50}}}
\tb{tgrupopya}{906}{627}{993}{644}{yel}{T_PRN_TGRUPO_PYA_UE}{\rk{GPY_CODIGO}{\VC{1}}{<pk>}\\\rw{GPY_NOMBRE}{\VC{250}}}
\nt{tpyauen}{904}{667}{994}{678}{Hace referencia a la tabla TCODIMPACTO}
\tb{tpyaue}{904}{678}{994}{698}{yel}{T_PRN_TPYA_UE}{\rk{PYAUE_CODIGO}{\VC{10}}{<pk>}\\\rw{PYAUE_NOMBRE}{\VC{250}}\\\rw{GPY_CODIGO}{\VC{1}}\hfill<fk>}
\nt{tpyan}{851}{724}{941}{734}{Hace referencia a la tabla TPYA}
\tb{tpya}{851}{734}{941}{758}{yel}{T_PRN_TPYA}{\rk{PYA_CODIGO}{\VC{3}}{<pk>}\\\rw{PYA_NOMBRE}{\VC{250}}\\\rw{PYAUE_CODIGO}{\VC{10}}\hfill<fk>}
\nt{tagrpyan}{851}{777}{941}{790}{Hace referencia a la tabla TAGRUPACIONES_PYA}
\tb{tagrpya}{851}{790}{941}{808}{yel}{T_PRN_TAGRUPACION_PYA}{\rk{AGR_CODIGO}{\VC{2}}{<pk,fk>}\\\rk{PYA_CODIGO}{\VC{3}}{<pk,fk>}}
\nt{tpyamedun1}{853}{822}{943}{831}{Hace referencia a la tabla TAGRUPACIONES_PYA_MEDIDA}
\nt{tpyamedun2}{853}{831}{943}{840}{Hace referencia a la tabla TMEDIDA_CODIMPACTO}
\tb{tpyamedue}{853}{840}{943}{861}{yel}{T_PRN_TPYA_UE_MEDIDA_UE}{\rk{PYAUE_CODIGO}{\VC{10}}{<pk,fk>}\\\rk{MEDUE_CODIGO}{\VC{5}}{<pk,fk>}}
\nt{telemn}{853}{877}{943}{887}{Hace referencia a la tabla BT_Elementos_Clave}
\tb{telem}{853}{887}{943}{911}{yel}{T_PRN_TELEMENTO_CLAVE}{\rk{ECL_CODIGO}{\VC{4}}{<pk>}\\\rw{ECL_NOMBRE}{\VC{250}}\\\rw{AGR_CODIGO}{\VC{2}}\hfill<fk>}
% ---------------- pink / planes
\tb{tdoc}{852}{57}{938}{103}{yel}{T_PRN_TDOC_REPOSITORIO}{\rk{DOC_CODIGO}{\NU{3}}{<pk>}\\\rw{DOC_PDF}{BLOB}\\\rw{DOC_TIPO}{\VC{2}}\\\rw{DOC_ACTIVO}{\NU{1}}\\\rw{DOC_USU}{\VC{150}}\\\rw{DOC_FACCION}{DATE}\\\rw{DOC_NOMBRE}{\VC{250}}}
\tb{pbgepc}{852}{134}{941}{192}{pnk}{T_PRN_PBG_EPC}{\rk{CCAMPA}{\NU{4}}{<pk>}\\\rk{SPC_CODIGO}{\VC{6}}{<pk,fk>}\\\rk{PBE_ENVIO}{\NU{3}}{<pk>}\\\rw{PBE_PDF}{BLOB}\\\rw{PBE_FALTA}{DATE}\\\rw{PBE_USU_ALTA}{\VC{150}}\\\rw{PBE_FMODIF}{DATE}\\\rw{PBE_USU_MODIF}{\VC{150}}\\\rw{PBE_OBS}{\VC{250}}\\\rw{DOC_CODIGO}{\NU{3}}\hfill<fk2>}
\tb{pbgeprn}{851}{200}{939}{257}{pnk}{T_PRN_PBG_EPRN}{\rk{CCAMPA}{\NU{4}}{<pk>}\\\rk{EPRN_CODIGO}{\VC{12}}{<pk,fk>}\\\rk{PRE_ENVIO}{\NU{3}}{<pk>}\\\rw{PRE_PDF}{BLOB}\\\rw{PRE_FALTA}{DATE}\\\rw{PRE_USU_ALTA}{\VC{150}}\\\rw{PRE_FMODIF}{DATE}\\\rw{PRE_USU_MODIF}{\VC{150}}\\\rw{PRE_OBS}{\VC{250}}\\\rw{DOC_CODIGO}{\NU{3}}\hfill<fk2>}
\tb{pbghic}{874}{262}{967}{323}{pnk}{T_PRN_PBG_HIC}{\rk{CCAMPA}{\NU{4}}{<pk>}\\\rk{HIC_CODIGO}{\VC{6}}{<pk,fk1>}\\\rk{PBH_ENVIO}{\NU{3}}{<pk>}\\\rw{PBH_PDF}{BLOB}\\\rw{PBH_FALTA}{DATE}\\\rw{PBH_USU_ALTA}{\VC{150}}\\\rw{PBH_FMODIF}{DATE}\\\rw{PBH_USU_MODIF}{\VC{150}}\\\rw{PBH_OBS}{\VC{250}}\\\rw{DOC_CODIGO}{\NU{3}}\hfill<fk2>}
% ---------------- orange species
\tb{spcombro}{964}{60}{1043}{108}{org}{T_PRN_SPCESPECIE_OMBRO}{\rk{SPC_CODIGO}{\VC{6}}{<pk,fk>}\\\rw{SOM_ARI}{\NU{1}}\\\rw{SOM_SAR}{\NU{1}}\\\rw{SOM_DRY}{\NU{1}}\\\rw{SOM_SHU}{\NU{1}}\\\rw{SOM_HUM}{\NU{1}}\\\rw{SOM_HHU}{\NU{1}}\\\rw{SOM_UHU}{\NU{1}}}
\tb{spctermo}{965}{127}{1055}{195}{org}{T_PRN_SPCESPECIE_TERMO}{\rk{SPC_CODIGO}{\VC{6}}{<pk,fk>}\\\rw{STE_IME}{\NU{1}}\\\rw{STE_TME}{\NU{1}}\\\rw{STE_MME}{\NU{1}}\\\rw{STE_SME}{\NU{1}}\\\rw{STE_OME}{\NU{1}}\\\rw{STE_CME}{\NU{1}}\\\rw{STE_TTE}{\NU{1}}\\\rw{STE_MTE}{\NU{1}}\\\rw{STE_STE}{\NU{1}}\\\rw{STE_OTE}{\NU{1}}\\\rw{STE_CTE}{\NU{1}}}
\nt{spcn}{1130}{11}{1248}{21}{Hace referencia a la tabla SP_10A_DATBASICO}
\tb{spc}{1130}{21}{1248}{453}{org}{T_PRN_SPCESPECIE}{\rk{SPC_CODIGO}{\VC{6}}{<pk>}\\\rw{SPC_CTAXON}{\VC{50}}\\\rw{SPC_NDIRECTIVA}{\VC{100}}\\\rw{SPC_NVIGENTE}{\VC{100}}\\\rw{SPC_NCOMUN}{\VC{100}}\\\rw{SGX_CODIGO}{\VC{1}}\hfill<fk4>\\\rw{SPC_VCONSERVACION}{\NU{2}}\\\rw{SPC_COMENTARIOTAX}{\VC{500}}\\\rw{SPC_OBS}{\VC{2500}}\\\rw{SPC_CITES_INT}{\NU{1}}\\\rw{SPC_CITES_UE}{\VC{1}}\\\rw{SPC_BONN}{\NU{1}}\\\rw{SPC_HIC_ANEXOII}{\NU{1}}\\\rw{SPC_HIC_PRIOR}{\NU{1}}\\\rw{SPC_HIC_ANEXOIV}{\NU{1}}\\\rw{SPC_HIC_ANEXOV}{\NU{1}}\\\rw{SPC_AVE_ANEXOI}{\NU{1}}\\\rw{SPC_AVE_ANEXOII}{\NU{1}}\\\rw{SPC_AVE_MIGRATORIA}{\NU{1}}\\\rw{SPC_AVE_ORNIS}{\NU{1}}\\\rw{SPC_BERNA}{\NU{1}}\\\rw{SPC_NACIONAL_LESPRE}{\NU{1}}\\\rw{SPC_NACIONAL_CATALOGO}{\NU{3}}\\\rw{SPC_NACIONAL_CRITICA}{\NU{1}}\\\rw{SPC_CCAA}{\NU{3}}\\\rw{SPC_CAMENAZA_ESP}{\NU{3}}\hfill<fk1>\\\rw{SPC_CAMENAZA_EUR}{\NU{3}}\hfill<fk2>\\\rw{SPC_CAMENAZA_MUN}{\NU{3}}\hfill<fk3>\\\rw{SPC_AREA_GENERAL}{\VC{2500}}\\\rw{SPC_AREA_ARAGON}{\VC{2500}}\\\rw{SPC_FAUNA_PREFERENTE}{\VC{1500}}\\\rw{SPC_FAUNA_CRIA}{\VC{500}}\\\rw{SPC_FAUNA_ALIMENTACION}{\VC{250}}\\\rw{SPC_FAUNA_INVERNADA}{\VC{250}}\\\rw{SPC_FAUNA_DORMIDEROS}{\VC{250}}\\\rw{SPC_FAUNA_MIGRACION}{\VC{250}}\\\rw{SPC_FAUNA_ELEMENTOS}{\VC{250}}\\\rw{LIT_CODIGO}{\NU{3}}\hfill<fk5>\\\rw{SPC_FLORA_ALTITUD}{\VC{150}}\\\rw{SPC_FLORA_LUMINOSIDAD}{\VC{2}}\\\rw{SPC_FLORA_ELEMENTOS}{\VC{250}}\\\rw{SPC_AREA_SUPERFICIE_HA}{\NU{8,2}}\\\rw{SPC_AREA_UTM}{\VC{50}}\\\rw{SBA_CODIGO}{\NU{3}}\hfill<fk6>\\\rw{SPC_AREA_ANNO}{\NU{4}}\\\rw{SPC_AREA_CALIDAD}{\VC{3}}\hfill<fk8>\\\rw{SPC_AREA_CRITERIO}{\VC{3}}\hfill<fk9>\\\rw{SPC_AREA_TENDENCIA}{\VC{3}}\hfill<fk7>\\\rw{SPC_AREA_ESTADO}{\VC{3}}\hfill<fk10>\\\rw{SPC_AREA_OBS}{\VC{500}}\\\rw{SPC_TPO_TAMANNO}{\VC{100}}\\\rw{SPC_TPO_FUENTE}{\NU{3}}\\\rw{SPC_TPO_ANNO}{\NU{4}}\\\rw{SPC_TPO_CALIDAD}{\VC{3}}\\\rw{SPC_TPO_CRITERIO}{\VC{3}}\\\rw{SPC_TPO_TENDENCIA}{\VC{3}}\\\rw{SPC_TPO_ESTADO}{\VC{3}}\\\rw{SPC_TPO_OBS}{\VC{500}}\\\rw{SPC_TPO_PARAM_IND}{\VC{250}}\\\rw{SPC_HES_HABITAT}{\VC{150}}\\\rw{SPC_HES_TENDENCIA}{\VC{3}}\\\rw{SPC_HES_ESTADO}{\VC{3}}\\\rw{SPC_HES_OBS}{\VC{500}}\\\rw{SPC_PFU_PERSPECTIVA}{\VC{150}}\\\rw{SPC_PFU_ESTADO}{\VC{3}}\\\rw{SPC_PFU_OBS}{\VC{500}}\\\rw{SPC_REG_ESTADO}{\VC{3}}\\\rw{SPC_REG_TENDENCIA}{\VC{3}}\\\rw{SPC_REG_OBS}{\VC{500}}\\\rw{SPC_REG_ESTADO_EXP}{\VC{3}}\\\rw{SPC_REG_OBS_EXP}{\VC{500}}\\\rw{SPC_VALOR_DATOS}{\VC{1}}\\\rw{SPC_PRIOR_AVES}{\NU{1}}\\\rw{SPC_PLAN_RECU}{\VC{250}}\\\rw{SPC_PLAN_EXTRA}{\VC{250}}\\\rw{AGR_CODIGO}{\VC{2}}\\\rw{SPC_OBJETIVO}{\VC{2500}}\\\rw{SPC_OBJETIVO_MANTENER}{\NU{1}}\\\rw{SPC_OBJETIVO_RESTABLECER}{\NU{1}}\\\rw{SPC_OBJETIVO_MEJORA}{\NU{1}}\\\rw{SPC_OBS_FAB_ESP_EPRN}{\VC{500}}\\\rw{SPC_CAMENAZA_ESP_CAT}{\NU{3}}\\\rw{SPC_CAMENAZA_EUR_CAT}{\NU{3}}\\\rw{SPC_CAMENAZA_MUN_CAT}{\NU{3}}}
\nt{sbibn}{1325}{78}{1408}{88}{Hace referencia a la tabla SP_10A_BIBLIOGRAFIA}
\tb{sbib}{1325}{88}{1408}{103}{org}{T_PRN_SPCESPECIE_BIBLIO}{\rk{SPC_CODIGO}{\VC{6}}{<pk,fk>}\\\rk{TBI_CODIGO}{\NU{5}}{<pk,fk>}}
\tb{tbiblio}{1584}{91}{1668}{117}{yel}{T_PRN_TBIBLIOGRAFIA}{\rk{TBI_CODIGO}{\NU{5}}{<pk>}\\\rw{TBI_NOMBRE}{\VC{1000}}\\\rw{TBI_TIPO}{\VC{3}}}
\nt{staxonn}{1324}{110}{1408}{118}{Hace referencia a la tabla TGRUPO_TAXO}
\tb{staxon}{1324}{118}{1408}{138}{org}{T_PRN_SPCGRUPO_TAXON}{\rk{SGX_CODIGO}{\VC{1}}{<pk>}\\\rw{SGX_NOMBRE}{\VC{100}}}
\tb{samen}{1324}{141}{1408}{165}{org}{T_PRN_SPCAMENZA_LIBROS}{\rk{SAL_CODIGO}{\NU{3}}{<pk>}\\\rw{SAL_NOMBRE}{\VC{100}}\\\rw{SAL_DESCIPCION}{\VC{250}}}
\tb{sarea}{1325}{170}{1407}{190}{org}{T_PRN_SPCBIBLIO_AREA_DIS}{\rk{SBA_CODIGO}{\NU{3}}{<pk>}\\\rw{SBA_NOMBRE}{\VC{250}}}
\nt{sotran}{1496}{173}{1588}{182}{Hace referencia a la tabla TOTRAESP}
\tb{sotra}{1496}{182}{1588}{213}{org}{T_PRN_SPCOTRAESPECIE}{\rk{SOE_CODIGO}{\NU{4}}{<pk>}\\\rw{SOE_NOMBRE}{\VC{250}}\\\rw{SPC_CODIGO}{\VC{6}}\hfill<fk>\\\rw{SOE_SUBESPECIE}{\VC{500}}}
\nt{sagrun}{1316}{191}{1407}{201}{Hace referencia a la tabla SP_1A_DATBASICO_AGRUPACION}
\tb{sagru}{1316}{201}{1407}{221}{org}{T_PRN_SPCESPECIE_AGRU}{\rk{SPC_CODIGO}{\VC{6}}{<pk,fk>}\\\rk{AGR_CODIGO}{\VC{2}}{<pk,fk>}}
\nt{sagrupyan}{1316}{225}{1406}{235}{Hace referencia a la tabla SP_1A_DATBASICO_AGRUPACION_PYA}
\tb{sagrupya}{1316}{235}{1406}{272}{org}{T_PRN_SPCESPECIE_AGRU_PYA}{\rk{SPC_CODIGO}{\VC{6}}{<pk,fk>}\\\rk{AGR_CODIGO}{\VC{2}}{<pk>}\\\rk{PYA_CODIGO}{\VC{3}}{<pk>}\\\rw{IMPO_CODIGO}{\NU{1}}\\\rw{SAP_PRESENTE}{\NU{1}}\\\rw{PYA_EXPLICA}{\VC{500}}}
\nt{sagrupyamedn}{1496}{225}{1588}{240}{Hace referencia a la tabla HIC_1A_DATBASICO_AGRUPACION_PYA_MEDIDA}
\tb{sagrupyamed}{1496}{240}{1588}{300}{org}{T_PRN_SPCESPECIE_AGRU_PYA_MED}{\rk{SPC_CODIGO}{\VC{6}}{<pk,fk>}\\\rk{AGR_CODIGO}{\VC{2}}{<pk,fk>}\\\rk{PYA_CODIGO}{\VC{3}}{<pk,fk>}\\\rk{MED_CODIGO}{\VC{3}}{<pk,fk>}\\\rw{IMPO_CODIGO}{\NU{1}}\\\rw{SMM_PRESENTE}{\NU{1}}\\\rw{OBJ_CODIGO}{\NU{3}}\\\rw{SOB_PRESENTE}{\NU{1}}\\\rw{SMM_EXPLICA}{\VC{500}}\\\rw{SOB_EXPLICA}{\VC{500}}}
\nt{smedidan}{1314}{277}{1405}{287}{Hace referencia a la tabla SP_1A_DATBASICO_MEDIDA}
\tb{smedida}{1314}{287}{1405}{324}{org}{T_PRN_SPCESPECIE_MEDIDA}{\rk{SPC_CODIGO}{\VC{6}}{<pk,fk>}\\\rk{MED_CODIGO}{\VC{3}}{<pk,fk>}\\\rw{IMPO_CODIGO}{\NU{1}}\\\rw{SMB_EXPLICA}{\VC{500}}\\\rw{OBJ_CODIGO}{\NU{3}}\\\rw{SOB_PRESENTE}{\NU{1}}}
\nt{sobjn}{1314}{327}{1406}{337}{Hace referencia a la tabla SP_1A_DATBASICO_OBJETIVOS}
\tb{sobj}{1314}{337}{1406}{362}{org}{T_PRN_SPCESPECIE_OBJETIVOS}{\rk{SPC_CODIGO}{\VC{6}}{<pk,fk>}\\\rk{OBJ_CODIGO}{\NU{3}}{<pk>}\\\rw{VAL_CODIGO}{\VC{3}}}
\nt{spyan}{1314}{363}{1405}{373}{Hace referencia a la tabla SP_1A_DATBASICO_PYA}
\tb{spya}{1314}{373}{1405}{395}{org}{T_PRN_SPCESPECIE_PYA}{\rk{SPC_CODIGO}{\VC{6}}{<pk,fk>}\\\rk{PYA_CODIGO}{\VC{3}}{<pk>}\\\rw{IMPO_CODIGO}{\NU{1}}}
\nt{spyamedn}{1484}{361}{1577}{371}{Hace referencia a la tabla SP_1A_DATBASICO_PYA_MEDIDA}
\tb{spyamed}{1484}{371}{1577}{425}{org}{T_PRN_SPCESPECIE_PYA_MEDIDA}{\rk{SPC_CODIGO}{\VC{6}}{<pk,fk>}\\\rk{PYA_CODIGO}{\VC{3}}{<pk,fk>}\\\rk{MED_CODIGO}{\VC{3}}{<pk,fk>}\\\rw{IMPO_CODIGO}{\NU{1}}\\\rw{SPM_PRESENTE}{\NU{1}}\\\rw{OBJ_CODIGO}{\NU{3}}\\\rw{SOB_PRESENTE}{\NU{1}}\\\rw{SMB_EXPLICA}{\VC{500}}\\\rw{SOB_EXPLICA}{\VC{500}}}
\nt{scondn}{1314}{400}{1405}{409}{Hace referencia a la tabla SP_4B_CONDICION}
\tb{scond}{1314}{409}{1405}{436}{org}{T_PRN_SPCESPECIE_CONDGESTION}{\rk{SPC_CODIGO}{\VC{6}}{<pk,fk>}\\\rk{SCG_CODIGO}{\NU{2}}{<pk>}\\\rw{SCG_NOMBRE}{\VC{500}}}
\nt{slineasn}{1314}{437}{1405}{447}{Hace referencia a la tabla SP_6A_LINEA_PRIORITARIA}
\tb{slineas}{1314}{447}{1405}{467}{org}{T_PRN_SPCESPECIE_LINEAS}{\rk{SPC_CODIGO}{\VC{6}}{<pk,fk>}\\\rk{SLI_CODIGO}{\NU{3}}{<pk,fk>}}
\tb{spclineas}{1487}{445}{1573}{465}{org}{T_PRN_SPCLINEAS}{\rk{SLI_CODIGO}{\NU{3}}{<pk>}\\\rw{SLI_NOMBRE}{\VC{2500}}}
\tb{sindpro}{1586}{441}{1677}{466}{org}{T_PRN_SPCESPECIE_IND_PRO}{\rk{SPC_CODIGO}{\VC{6}}{<pk>}\\\rk{IND_CODIGO}{\NU{3}}{<pk,fk>}\\\rw{PRO_CODIGO}{\NU{3}}\hfill<fk2>}
\tb{tind}{1772}{422}{1855}{445}{yel}{T_PRN_TINDICADOR}{\rk{IND_CODIGO}{\NU{3}}{<pk>}\\\rw{IND_NOMBRE}{\VC{150}}\\\rw{TIN_CODIGO}{\VC{6}}\hfill<fk>}
\tb{tindti}{1886}{422}{1960}{442}{yel}{T_PRN_TINDICADOR_TIPO}{\rk{TIN_CODIGO}{\VC{6}}{<pk>}\\\rw{TIN_NOMBRE}{\VC{100}}}
% ---------------- green habitats
\tb{htermo}{1007}{408}{1098}{476}{grn}{T_PRN_HICHABITAT_TERMO}{\rk{HIC_CODIGO}{\VC{6}}{<pk,fk>}\\\rw{HTE_IME}{\NU{1}}\\\rw{HTE_TME}{\NU{1}}\\\rw{HTE_MME}{\NU{1}}\\\rw{HTE_SME}{\NU{1}}\\\rw{HTE_OME}{\NU{1}}\\\rw{HTE_CME}{\NU{1}}\\\rw{HTE_TTE}{\NU{1}}\\\rw{HTE_MTE}{\NU{1}}\\\rw{HTE_STE}{\NU{1}}\\\rw{HTE_OTE}{\NU{1}}\\\rw{HTE_CTE}{\NU{1}}}
\tb{hombro}{1007}{480}{1098}{527}{grn}{T_PRN_HICHABITAT_OMBRO}{\rk{HIC_CODIGO}{\VC{6}}{<pk,fk>}\\\rw{HOM_ARI}{\NU{1}}\\\rw{HOM_SAR}{\NU{1}}\\\rw{HOM_DRY}{\NU{1}}\\\rw{HOM_SHU}{\NU{1}}\\\rw{HOM_HUM}{\NU{1}}\\\rw{HOM_HHU}{\NU{1}}\\\rw{HOM_UHU}{\NU{1}}}
\tb{tfuente}{1007}{533}{1098}{552}{yel}{T_PRN_TFUENTE}{\rk{FUE_CODIGO}{\NU{3}}{<pk>}\\\rw{FUE_NOMBRE}{\VC{250}}}
\tb{tlito}{1007}{557}{1098}{577}{yel}{T_PRN_TLITOLOGIA}{\rk{LIT_CODIGO}{\NU{3}}{<pk>}\\\rw{LIT_NOMBRE}{\VC{100}}}
\tb{ttopo}{1007}{587}{1097}{607}{yel}{T_PRN_TTOPOGRAFIA}{\rk{TOP_CODIGO}{\NU{3}}{<pk>}\\\rw{TOP_NOMBRE}{\VC{100}}}
\tb{tcal}{1007}{615}{1097}{634}{yel}{T_PRN_TCALIDAD_DATOS}{\rk{CAL_CODIGO}{\VC{3}}{<pk>}\\\rw{CAL_NOMBRE}{\VC{100}}}
\tb{tcrit}{1006}{638}{1097}{655}{yel}{T_PRN_TCRITERIO}{\rk{CRI_CODIGO}{\VC{3}}{<pk>}\\\rw{CRI_NOMBRE}{\VC{100}}}
\tb{ttend}{1006}{665}{1097}{685}{yel}{T_PRN_TTENDENCIA}{\rk{TEN_CODIGO}{\VC{3}}{<pk>}\\\rw{TEN_NOMBRE}{\VC{100}}}
\tb{testado}{1006}{705}{1096}{726}{yel}{T_PRN_TESTADO_CONSERVACION}{\rk{EST_CODIGO}{\VC{3}}{<pk>}\\\rw{EST_NOMBRE}{\VC{100}}}
\tb{tsuper}{1022}{764}{1101}{784}{yel}{T_PRN_TSUPERAGRUPACION}{\rk{SGA_CODIGO}{\VC{2}}{<pk>}\\\rw{SGA_NOMBRE}{\VC{150}}}
\nt{tagrupn}{1001}{801}{1091}{811}{Hace referencia a la tabla TAGRUPACIONES}
\tb{tagrup}{1001}{811}{1091}{840}{yel}{T_PRN_TAGRUPACION}{\rk{AGR_CODIGO}{\VC{2}}{<pk>}\\\rw{SGA_CODIGO}{\VC{2}}\hfill<fk>\\\rw{AGR_NOMBRE}{\VC{250}}\\\rw{AGR_OBS}{\VC{250}}}
\nt{hcondn}{1212}{785}{1304}{795}{Hace referencia a la tabla HIC_4B_CONDICION}
\tb{hcond}{1212}{795}{1304}{818}{grn}{T_PRN_HICHABITAT_CONDGESTION}{\rk{HIC_CODIGO}{\VC{6}}{<pk,fk>}\\\rk{HCG_CODIGO}{\NU{2}}{<pk>}\\\rw{HCG_NOMBRE}{\VC{500}}}
\nt{hicgrupon}{1130}{486}{1211}{496}{Hace referencia a la tabla TGRUPO_DH1}
\tb{hicgrupo}{1130}{496}{1211}{513}{grn}{T_PRN_HICGRUPO}{\rk{HGR_CODIGO}{\VC{6}}{<pk>}\\\rw{HGR_NOMBRE}{\VC{150}}}
\nt{hicsubgn}{1230}{482}{1314}{491}{Hace referencia a la tabla TGRUPO_DH2}
\tb{hicsubg}{1230}{491}{1314}{514}{grn}{T_PRN_HICSUBG}{\rk{HSG_CODIGO}{\VC{6}}{<pk>}\\\rw{HGR_CODIGO}{\VC{6}}\hfill<fk>\\\rw{HSG_NOMBRE}{\VC{150}}}
\nt{hatlasn}{1325}{482}{1406}{492}{Hace referencia a la tabla HIC_1A_DATBASICO_ATLAS}
\tb{hatlas}{1325}{492}{1406}{514}{grn}{T_PRN_HICHABITAT_ATLAS}{\rk{HIC_CODIGO}{\VC{6}}{<pk>}\\\rk{HAT_CODIGO}{\VC{15}}{<pk>}\\\rw{HAT_NOMBRE}{\VC{500}}}
\nt{hbiblion}{1427}{530}{1530}{540}{Hace referencia a la tabla HIC_10B_BIBLIOGRAFIA}
\tb{hbiblio}{1427}{540}{1530}{560}{grn}{T_PRN_HICHABITAT_BIBLIO}{\rk{HIC_CODIGO}{\VC{6}}{<pk,fk>}\\\rk{TBI_CODIGO}{\NU{5}}{<pk,fk>}}
\tb{hindpro}{1585}{492}{1676}{519}{grn}{T_PRN_HICHABITAT_IND_PRO}{\rk{HIC_CODIGO}{\VC{6}}{<pk>}\\\rk{IND_CODIGO}{\NU{3}}{<pk,fk>}\\\rw{PRO_CODIGO}{\NU{3}}\hfill<fk2>}
\tb{tproto}{1773}{492}{1856}{514}{yel}{T_PRN_TPROTOCOLO}{\rk{PRO_CODIGO}{\NU{3}}{<pk>}\\\rw{PRO_NOMBRE}{\VC{750}}\\\rw{TPR_CODIGO}{\VC{6}}\hfill<fk>}
\tb{tprotot}{1888}{494}{1960}{512}{yel}{T_PRN_TPROTOCOLO_TIPO}{\rk{TPR_CODIGO}{\VC{6}}{<pk>}\\\rw{TPR_NOMBRE}{\VC{100}}}
\nt{tvalhsn}{1774}{520}{1864}{529}{Hace referencia a la tabla TUNIONVALORES}
\tb{tvalhs}{1774}{529}{1864}{557}{yel}{T_PRN_TVALORES_HICSPC}{\rk{VAL_CODIGO}{\VC{3}}{<pk>}\\\rw{VAL_TAXON}{\VC{50}}\\\rw{VAL_NOMBRE}{\VC{250}}}
\nt{tuson}{1877}{556}{1960}{566}{Hace referencia a la tabla TUSO_SUELO}
\tb{tuso}{1877}{566}{1960}{597}{yel}{T_PRN_TUSO_SUELO}{\rk{USO_CODIGO}{\VC{3}}{<pk>}\\\rw{USO_NOMBRE}{\VC{250}}\\\rw{USO_ORDEN}{\NU{3}}\\\rw{GUS_CODIGO}{\NU{2}}\hfill<fk>}
\tb{tgrupouso}{1796}{615}{1886}{637}{yel}{T_PRN_TGRUPOUSO_SUELO}{\rk{GUS_CODIGO}{\NU{2}}{<pk>}\\\rw{GUS_NOMBRE}{\VC{250}}}
\nt{hobjn}{1422}{585}{1526}{596}{Hace referencia a la tabla HIC_1A_DATBASICO_OBJETIVOS}
\tb{hobj}{1422}{596}{1526}{615}{grn}{T_PRN_HICHABITAT_OBJETIVOS}{\rk{HIC_CODIGO}{\VC{6}}{<pk,fk>}\\\rk{OBJ_CODIGO}{\NU{3}}{<pk>}}
\nt{hmedidan}{1583}{617}{1686}{627}{Hace referencia a la tabla HIC_1A_DATBASICO_MEDIDA}
\tb{hmedida}{1583}{627}{1686}{672}{grn}{T_PRN_HICHABITAT_MEDIDA}{\rk{HIC_CODIGO}{\VC{6}}{<pk,fk>}\\\rk{MED_CODIGO}{\VC{3}}{<pk,fk>}\\\rw{IMPO_CODIGO}{\NU{1}}\\\rw{HME_EXPLICA}{\VC{500}}\\\rw{OBJ_CODIGO}{\NU{3}}\\\rw{HOB_PRESENTE}{\NU{1}}\\\rw{HOB_EXPLICA}{\VC{500}}}
\nt{hagrun}{1422}{630}{1524}{640}{Hace referencia a la tabla HIC_1A_DATBASICO_AGRUPACION}
\tb{hagru}{1422}{640}{1524}{660}{grn}{T_PRN_HICHABITAT_AGRU}{\rk{HIC_CODIGO}{\VC{6}}{<pk,fk>}\\\rk{AGR_CODIGO}{\VC{2}}{<pk,fk>}}
\nt{hicn}{1191}{546}{1335}{556}{Hace referencia a la tabla HIC_1A_DATBASICO}
\tb{hic}{1191}{556}{1335}{752}{grn}{T_PRN_HICHABITAT}{\rk{HIC_CODIGO}{\VC{6}}{<pk>}\\\rw{HIC_DH}{\VC{6}}\\\rw{HIC_NOMBRE}{\VC{250}}\\\rw{HGR_CODIGO}{\VC{6}}\hfill<fk12>\\\rw{HSG_CODIGO}{\VC{6}}\hfill<fk13>\\\rw{HIC_PERIODO}{\NU{2}}\\\rw{HIC_VCONSERVACION}{\NU{2}}\\\rw{HIC_ANEXOI}{\NU{1}}\\\rw{HIC_PRIORITARIO}{\NU{1}}\\\rw{HIC_AREA_GENERAL}{\VC{2500}}\\\rw{HIC_AREA_ARAGON}{\VC{2500}}\\\rw{LIT_CODIGO}{\NU{3}}\hfill<fk10>\\\rw{TOP_CODIGO}{\NU{3}}\hfill<fk9>\\\rw{HIC_CARACTER_GENERAL}{\VC{2500}}\\\rw{HIC_AREA_SUPERFICIE_HA}{\NU{8,2}}\\\rw{HIC_AREA_UTM}{\VC{50}}\\\rw{FUE_CODIGO}{\NU{3}}\hfill<fk11>\\\rw{HIC_AREA_ANNO}{\NU{4}}\\\rw{CAL_CODIGO}{\VC{3}}\hfill<fk8>\\\rw{CRI_CODIGO}{\VC{3}}\hfill<fk7>\\\rw{HIC_AREA_TENDENCIA}{\VC{3}}\hfill<fk6>\\\rw{HIC_AREA_TENDENCIA_OBS}{\VC{500}}\\\rw{HIC_AREA_ESTADO}{\VC{3}}\hfill<fk1>\\\rw{HIC_AREA_OBS}{\VC{500}}\\\rw{HIC_ESFU_TENDENCIA}{\VC{3}}\\\rw{HIC_ESFU_ESTADO}{\VC{3}}\\\rw{HIC_ESFU_OBS}{\VC{500}}\\\rw{HIC_PEFU_ESTADO}{\VC{3}}\\\rw{HIC_PEFU_OBS}{\VC{500}}\\\rw{HIC_REG_ESTADO}{\VC{3}}\\\rw{HIC_REG_TENDENCIA}{\VC{3}}\\\rw{HIC_REG_OBS}{\VC{500}}\\\rw{AGR_CODIGO}{\VC{2}}\\\rw{HIC_OBJETIVO}{\VC{2500}}\\\rw{HIC_OBJETIVO_MANTENER}{\NU{1}}\\\rw{HIC_OBJETIVO_RESTABLECER}{\NU{1}}\\\rw{HIC_OBJETIVO_MEJORA}{\NU{1}}\\\rw{HIC_VCONSERVACION_EXP}{\NU{2}}}
\nt{hpyaTn}{1583}{680}{1686}{689}{Hace referencia a la tabla HIC_1A_DATBASICO_PYA}
\tb{hpyaT}{1583}{689}{1686}{716}{grn}{T_PRN_HICHABITAT_PYA}{\rk{HIC_CODIGO}{\VC{6}}{<pk,fk>}\\\rk{PYA_CODIGO}{\VC{3}}{<pk>}\\\rw{IMPO_CODIGO}{\NU{1}}\\\rw{PYA_EXPLICA}{\VC{500}}}
\nt{hagrupyan}{1460}{703}{1561}{713}{Hace referencia a la tabla HIC_1A_DATBASICO_AGRUPACION_PYA}
\tb{hagrupya}{1460}{713}{1561}{751}{grn}{T_PRN_HICHABITAT_AGRU_PYA}{\rk{HIC_CODIGO}{\VC{6}}{<pk,fk>}\\\rk{AGR_CODIGO}{\VC{2}}{<pk>}\\\rk{PYA_CODIGO}{\VC{3}}{<pk>}\\\rw{IMPO_CODIGO}{\NU{1}}\\\rw{HAP_PRESENTE}{\NU{1}}\\\rw{PYA_EXPLICA}{\VC{500}}}
\nt{hpyamedn}{1574}{736}{1664}{745}{Hace referencia a la tabla HIC_1A_DATBASICO_PYA_MEDIDA}
\tb{hpyamed}{1574}{745}{1664}{800}{grn}{T_PRN_HICHABITAT_PYA_MEDIDA}{\rk{HIC_CODIGO}{\VC{6}}{<pk,fk>}\\\rk{PYA_CODIGO}{\VC{3}}{<pk,fk>}\\\rk{MED_CODIGO}{\VC{3}}{<pk,fk>}\\\rw{IMPO_CODIGO}{\NU{1}}\\\rw{HPM_PRESENTE}{\NU{1}}\\\rw{OBJ_CODIGO}{\NU{3}}\\\rw{HOB_PRESENTE}{\NU{1}}\\\rw{HME_EXPLICA}{\VC{500}}\\\rw{HOB_EXPLICA}{\VC{500}}}
\nt{hagrupyamedn}{1460}{768}{1561}{777}{Hace referencia a la tabla HIC_1A_DATBASICO_AGRUPACION_PYA_MEDID}
\tb{hagrupyamed}{1460}{777}{1561}{838}{grn}{T_PRN_HICHABITAT_AGRU_PYA_MED}{\rk{HIC_CODIGO}{\VC{6}}{<pk,fk>}\\\rk{AGR_CODIGO}{\VC{2}}{<pk,fk>}\\\rk{PYA_CODIGO}{\VC{3}}{<pk,fk>}\\\rk{MED_CODIGO}{\VC{3}}{<pk,fk>}\\\rw{IMPO_CODIGO}{\NU{1}}\\\rw{HME_PRESENTE}{\NU{1}}\\\rw{OBJ_CODIGO}{\NU{3}}\\\rw{HOB_PRESENTE}{\NU{1}}\\\rw{HME_EXPLICA}{\VC{500}}\\\rw{HOB_EXPLICA}{\VC{500}}}
\nt{hlineasn}{1318}{780}{1400}{790}{Hace referencia a la tabla HIC_5A_LINEA_PRIORITARIA}
\tb{hlineas}{1318}{790}{1400}{811}{grn}{T_PRN_HICHABITAT_LINEAS}{\rk{HIC_CODIGO}{\VC{6}}{<pk,fk>}\\\rk{HLI_CODIGO}{\NU{3}}{<pk,fk>}}
\tb{hiclineas}{1318}{828}{1399}{846}{grn}{T_PRN_HICLINEAS}{\rk{HLI_CODIGO}{\NU{3}}{<pk>}\\\rw{HLI_NOMBRE}{\VC{2500}}}
\nt{tmedidan}{1703}{689}{1800}{700}{Hace referencia a la tabla TMEDIDA}
\tb{tmedida}{1703}{700}{1800}{762}{yel}{T_PRN_TMEDIDA}{\rk{MED_CODIGO}{\VC{3}}{<pk>}\\\rw{MED_NOMBRE}{\VC{250}}\\\rw{AMB_CODIGO}{\NU{3}}\hfill<fk6>\\\rw{IMPO_CODIGO}{\NU{1}}\hfill<fk1>\\\rw{MED_DIAGNOSTICO}{\VC{500}}\\\rw{VNA_CODIGO}{\VC{3}}\hfill<fk2>\\\rw{MTV_CODIGO}{\NU{3}}\hfill<fk3>\\\rw{MTE_CODIGO}{\NU{3}}\hfill<fk4>\\\rw{MEDUE_CODIGO}{\VC{5}}\hfill<fk5>\\\rw{OBJ_CODIGO}{\NU{3}}\hfill<fk7>}
\tb{timpo}{1795}{647}{1885}{669}{yel}{T_PRN_TIMPORTANCIA}{\rk{IMPO_CODIGO}{\NU{1}}{<pk>}\\\rw{IMPO_NOMBRE}{\VC{100}}\\\rw{IMPO_VALOR_UE}{\VC{1}}}
\tb{tval2000}{1876}{679}{1960}{700}{yel}{T_PRN_TVALORES2000}{\rk{VNA_CODIGO}{\VC{3}}{<pk>}\\\rw{VNA_NOMBRE}{\VC{250}}}
\tb{tmtv}{1876}{707}{1960}{727}{yel}{T_PRN_TMEDIDA_TVALOR}{\rk{MTV_CODIGO}{\NU{3}}{<pk>}\\\rw{MTV_NOMBRE}{\VC{250}}}
\tb{tmte}{1876}{730}{1960}{747}{yel}{T_PRN_TMEDIDA_TESPACIO}{\rk{MTE_CODIGO}{\NU{3}}{<pk>}\\\rw{MTE_NOMBRE}{\VC{250}}}
\tb{tamb}{1876}{754}{1960}{774}{yel}{T_PRN_TAMBITO}{\rk{AMB_CODIGO}{\NU{3}}{<pk>}\\\rw{AMB_NOMBRE}{\VC{500}}}
\tb{tobj}{1876}{791}{1960}{815}{yel}{T_PRN_TOBJETIVO}{\rk{OBJ_CODIGO}{\NU{3}}{<pk>}\\\rw{OBJ_NOMBRE}{\VC{250}}\\\rw{GOB_CODIGO}{\NU{3}}}
\nt{tgobjn}{1876}{831}{1960}{840}{Hace referencia a la tabla TOBJETIVO}
\tb{tgobj}{1876}{840}{1960}{861}{yel}{T_PRN_TGOBJETIVO}{\rk{GOB_CODIGO}{\NU{3}}{<pk>}\\\rw{GOB_NOMBRE}{\VC{150}}}
\tb{tmedue}{1694}{813}{1784}{837}{yel}{T_PRN_TMEDIDA_UE}{\rk{MEDUE_CODIGO}{\VC{5}}{<pk>}\\\rw{MEDUE_NOMBRE}{\VC{150}}\\\rw{GME_CODIGO}{\VC{2}}\hfill<fk>}
\tb{tgrumedue}{1747}{846}{1830}{864}{yel}{T_PRN_TGRUPO_MEDIDA_UE}{\rk{GME_CODIGO}{\VC{2}}{<pk>}\\\rw{GME_NOMBRE}{\VC{250}}}
% ---------------- section titles
\node[sect,text=secblue] (sec1) at (779,98) {TABLAS ESPACIOS};
\node[sect,text=secpink] (sec2) at (899,123) {PLANES BÁSICOS DE GESTIÓN};
\node[sect,text=secbrown] (sec3) at (1337,55) {TABLAS ESPECIES};
\node[sect,text=secgreen] (sec4) at (1357,534) {TABLAS HABITATS};
% ================= connectors (background)
\begin{pgfonlayer}{bg}
\fill[white] (0,0) rectangle (1949,927);
\draw[fk] (hpm.south -| 62,0) -- (hpya.north -| 62,0);
\draw[fk] (epyam.south -| 182,0) -- (epya.north -| 182,0);
\draw[fk] (pyamed.south -| 66,0) -- (eppya.north -| 66,0);
\draw[fk] (eppya.south -| 72,0) |- (eprn.west |- 0,597);
\draw[fk] (hpya.east |- 0,268) -- (ehic.west |- 0,268);
\draw[fk] (epya.east |- 0,294) -- (eesp.west |- 0,294);
\draw[fk] (eotra.north -| 351,0) -- (totra.south -| 351,0);
\draw[fk] (ecinen.north -| 517,0) -- (tcine.south -| 517,0);
\draw[fk] (tcine.west |- 0,95) -- (ttipoter.east |- 0,95);
\draw[fk] (earbn.north -| 466,0) -- (tarbol.south -| 466,0);
\draw[fk] (elegaln.north -| 349,0) -- (tnorma.south -| 349,0);
\draw[fk] (etitu.west |- 0,394) -- (ttitu.east |- 0,394);
\draw[fk] (eestruc.west |- 0,513) -| (tunid.south -| 298,0);
\draw[fkb] (ebiblio.north -| 305,0) |- (tbiblio.west |- 0,108);
\draw[fkb] (eotraesp.east |- 0,113) -| (sotran.north -| 1558,0);
\draw[fk] (ecarto.south -| 322,0) |- (eprn.west |- 0,613);
\draw[fk] (eecl.east |- 0,534) -- (eprn.west |- 0,534);
\draw[fk] (epyaue.east |- 0,548) -- (eprn.west |- 0,548);
\draw[fk] (epyaue.east |- 0,560) -- (eprn.west |- 0,560);
\draw[fk] (eestruc.east |- 0,500) -- (eprn.west |- 0,500);
\draw[fk] (eprior.east |- 0,651) -- (eprn.west |- 0,651);
\draw[fkb] (eprov.east |- 0,694) -| (eprn.south -| 580,0);
\draw[fk] (emunin.north -| 365,0) |- (eprov.west |- 0,698);
\draw[fk] (eplanurbn.north -| 300,0) -- (tplanurb.south -| 300,0);
\draw[fk] (eplanurbn.north -| 348,0) -- (emuni.south -| 348,0);
\draw[fk] (emupn.north -| 473,0) -- (tmup.south -| 473,0);
\draw[fk] (emonte.south -| 490,0) -- (tmonte.north -| 490,0);
\draw[fkb] (emup.east |- 0,785) -| (eprn.south -| 586,0);
\draw[fkb] (edir.north -| 598,0) -- (eprn.south -| 598,0);
\draw[fk] (edir.south -| 605,0) -- (tdir.north -| 605,0);
\draw[fk] (tdir.south -| 608,0) -- (tclase.north -| 608,0);
\draw[fk] (eplan.west |- 0,771) -| (eprn.south -| 615,0);
\draw[fk] (eplan.south -| 710,0) -- (tplan.north -| 710,0);
\draw[fk] (eareas.south -| 780,0) -- (tareas.north -| 780,0);
\draw[fkb] (eareas.west |- 0,744) -| (eprn.south -| 640,0);
\draw[fkb] (eprop.west |- 0,697) -| (eprn.south -| 651,0);
\draw[fkb] (eprop.west |- 0,708) -| (eprn.south -| 644,0);
\draw[fk] (eenp.west |- 0,649) -- (eprn.east |- 0,649);
\draw[fk] (eenp.east |- 0,628) -- ++(14,0) |- (tenp.west |- 0,524);
\draw[fk] (eotro.west |- 0,585) -- (eprn.east |- 0,585);
\draw[fk] (eotro.east |- 0,579) -- ++(14,0) |- (ttipoesp.west |- 0,560);
\draw[fk] (eregbio.west |- 0,540) -- (eprn.east |- 0,540);
\draw[fk] (eprn.east |- 0,488) -- (ttipol.west |- 0,488);
\draw[fk] (eprn.east |- 0,496) -- (ttipol.west |- 0,493);
\draw[fk] (efint.east |- 0,356) -- (tfig.west |- 0,356);
\draw[fk] (ezhc.east |- 0,404) -- (tzhc.west |- 0,404);
\draw[fk] (evp.east |- 0,451) -- (tvia.west |- 0,451);
\draw[fkb] (efint.west |- 0,365) -| (eprnn.north -| 680,0);
\draw[fkb] (ezhc.west |- 0,412) -| (eprnn.north -| 669,0);
\draw[fkb] (evp.west |- 0,458) -| (eprnn.north -| 657,0);
\draw[fkb] (ehic.south -| 583,0) -- (eprnn.north -| 583,0);
\draw[fkb] (ehic.south -| 598,0) -- (eprnn.north -| 598,0);
\draw[fkb] (eotraesp.south -| 612,0) -- (eprnn.north -| 612,0);
\draw[fk] (etitu.east |- 0,403) -| (eprnn.north -| 645,0);
\draw[fk] (euso.east |- 0,458) -| (eprnn.north -| 577,0);
\draw[fk] (eotra.east |- 0,182) -| (eprnn.north -| 573,0);
\draw[fk] (earb.east |- 0,237) -| (eprnn.north -| 590,0);
\draw[fk] (esocio.east |- 0,330) -| (eprnn.north -| 604,0);
\draw[fkb] (enorma.south -| 371,0) |- (eprn.west |- 0,604);
\draw[fkb] (elegal.south -| 391,0) |- (eprn.west |- 0,608);
\draw[fk] (edato.south -| 780,0) -- (eespn.north -| 780,0);
\draw[fk] (eesp.east |- 0,294) -- ++(117,0) |- (spc.west |- 0,287);
\draw[fk] (pbgepc.north -| 925,0) -- (tdoc.south -| 925,0);
\draw[fk] (pbgeprn.north -| 862,0) -- (tdoc.south -| 862,0);
\draw[fk] (pbghic.north -| 885,0) -- (tdoc.south -| 885,0);
\draw[fk] (pbgepc.east |- 0,183) -- (spc.west |- 0,183);
\draw[fk] (spcombro.east |- 0,95) -- (spc.west |- 0,95);
\draw[fk] (spctermo.east |- 0,160) -- ++(40,0) |- (spc.west |- 0,146);
\draw[fk] (eprn.east |- 0,590) -- (hic.west |- 0,590);
% species right side
\draw[fk] (sbibn.west |- 0,82) -- (spc.east |- 0,82);
\draw[fk] (sbib.east |- 0,100) -- (tbiblio.west |- 0,100);
\draw[fk] (spc.east |- 0,121) -- ++(37,0) |- (staxon.west |- 0,132);
\draw[fk] (spc.east |- 0,136) -- ++(32,0) |- (samen.west |- 0,147);
\draw[fk] (spc.east |- 0,151) -- ++(32,0) |- (samen.west |- 0,155);
\draw[fk] (spc.east |- 0,158) -- ++(37,0) |- (samen.west |- 0,161);
\draw[fk] (spc.east |- 0,173) -- ++(37,0) |- (sarea.west |- 0,186);
\draw[fk] (sotra.west |- 0,181) -- (spc.east |- 0,181);
\draw[fk] (sagru.west |- 0,208) -- ++(-36,0) |- (spc.east |- 0,202);
\draw[fk] (sagrupya.west |- 0,258) -- ++(-36,0) |- (spc.east |- 0,245);
\draw[fk] (smedida.west |- 0,305) -- ++(-34,0) |- (spc.east |- 0,298);
\draw[fk] (sobj.west |- 0,345) -- ++(-34,0) |- (spc.east |- 0,340);
\draw[fk] (spya.west |- 0,384) -- ++(-34,0) |- (spc.east |- 0,378);
\draw[fk] (scond.west |- 0,420) -- ++(-34,0) |- (spc.east |- 0,414);
\draw[fk] (slineas.west |- 0,457) -- ++(-34,0) |- (spc.east |- 0,447);
\draw[fk] (sagrupyamed.west |- 0,269) -- (sagrupya.east |- 0,269);
\draw[fkb] (sagrupyamed.east |- 0,273) -| (tmedidan.north -| 1768,0);
\draw[fkb] (smedida.east |- 0,312) -| (tmedidan.north -| 1728,0);
\draw[fk] (spyamed.west |- 0,386) -- (spya.east |- 0,386);
\draw[fk] (spyamed.east |- 0,390) -| (tmedidan.north -| 1760,0);
\draw[fk] (slineas.east |- 0,460) -- (spclineas.west |- 0,460);
\draw[fk] (hindpro.north -| 1651,0) |- (tind.west |- 0,433);
\draw[fk] (sindpro.east |- 0,458) -| (tind.south -| 1815,0);
\draw[fk] (tind.east |- 0,437) -- (tindti.west |- 0,437);
\draw[fk] (sindpro.south -| 1665,0) |- (tproto.west |- 0,498);
\draw[fkb] (hindpro.east |- 0,509) -- (tproto.west |- 0,509);
\draw[fk] (tproto.east |- 0,503) -- (tprotot.west |- 0,503);
\draw[fk] (hbiblio.east |- 0,553) -| (tbiblio.south -| 1612,0);
\draw[fkb] (hbiblio.south -| 1484,0) |- (hic.east |- 0,572);
\draw[fkb] (hobj.west |- 0,609) -- (hic.east |- 0,609);
\draw[fk] (hic.east |- 0,581) -- (tuso.west |- 0,581);
\draw[fk] (tuso.west |- 0,588) -| (tgrupouso.north -| 1867,0);
\draw[fk] (hagru.west |- 0,652) -- (hic.east |- 0,652);
\draw[fk] (hmedida.west |- 0,665) -- (hic.east |- 0,665);
\draw[fk] (hpyaT.west |- 0,692) -- (hic.east |- 0,692);
\draw[fk] (hagrupya.west |- 0,709) -- (hic.east |- 0,709);
\draw[fk] (hagrupyamedn.north -| 1507,0) -- (hagrupya.south -| 1507,0);
\draw[fk] (hpyamedn.north -| 1624,0) -- (hpyaT.south -| 1624,0);
\draw[fk] (hpyamed.east |- 0,758) -- (tmedida.west |- 0,758);
\draw[fk] (hagrupyamed.east |- 0,833) -- (tmedue.west |- 0,833);
\draw[fk] (hmedida.east |- 0,661) -| (tmedidan.north -| 1710,0);
\draw[fk] (tmedida.east |- 0,704) -| (timpo.south -| 1822,0);
\draw[fk] (tmedida.east |- 0,709) -- ++(39,0) |- (tval2000.west |- 0,693);
\draw[fk] (tmedida.east |- 0,717) -- (tmtv.west |- 0,717);
\draw[fk] (tmedida.east |- 0,740) -- (tmte.west |- 0,740);
\draw[fk] (tmedida.east |- 0,755) -- ++(39,0) |- (tamb.west |- 0,764);
\draw[fk] (tmedida.south -| 1783,0) |- (tobj.west |- 0,805);
\draw[fk] (tmedida.south -| 1739,0) -- (tmedue.north -| 1739,0);
\draw[fk] (tmedue.south -| 1774,0) -- (tgrumedue.north -| 1774,0);
\draw[fk] (tobj.south -| 1921,0) -- (tgobjn.north -| 1921,0);
\draw[fk] (telem.east |- 0,898) -| (tagrup.south -| 1050,0);
\draw[fk] (tdirmed.east |- 0,884) -| (tmedida.south -| 1724,0);
\draw[fk] (tdirmed.west |- 0,880) -- (tdir.east |- 0,880);
\draw[fk] (tpyamedue.east |- 0,846) -| (tpyaue.south -| 957,0);
\draw[fk] (tpyamedue.east |- 0,852) -| (tmedue.south -| 1710,0);
\draw[fk] (tpyan.north -| 922,0) -- (tpyaue.south -| 922,0);
\draw[fk] (tagrpyan.north -| 895,0) -- (tpya.south -| 895,0);
\draw[fk] (tagrpya.east |- 0,803) -- ++(29,0) |- (tagrup.west |- 0,830);
\draw[fk] (tagrupn.north -| 1053,0) -- (tsuper.south -| 1053,0);
\draw[fk] (hic.south -| 1204,0) |- (tagrup.east |- 0,818);
\draw[fk] (hagru.south -| 1429,0) |- (tagrup.east |- 0,829);
\draw[fk] (hcondn.north -| 1266,0) -- (hic.south -| 1266,0);
\draw[fk] (hic.west |- 0,646) -- (tcrit.east |- 0,646);
\draw[fk] (hic.west |- 0,669) -- (ttend.east |- 0,669);
\draw[fk] (hic.west |- 0,681) -- (ttend.east |- 0,681);
\draw[fk] (hic.west |- 0,692) -| (ttend.south -| 1070,0);
\draw[fk] (hic.west |- 0,713) -- (testado.east |- 0,713);
\draw[fk] (hic.west |- 0,723) -- (testado.east |- 0,723);
\draw[fk] (hic.west |- 0,737) -| (testado.south -| 1079,0);
\draw[fkb] (hic.west |- 0,748) -| (testado.south -| 1035,0);
\draw[fk] (hic.west |- 0,627) -- (tcal.east |- 0,627);
\draw[fk] (hic.west |- 0,598) -- (ttopo.east |- 0,598);
\draw[fk] (hic.west |- 0,573) -- (tlito.east |- 0,573);
\draw[fk] (hicn.west |- 0,550) -- (tfuente.east |- 0,550);
\draw[fk] (spc.south -| 1208,0) |- (tlito.east |- 0,563);
\draw[fk] (htermo.east |- 0,469) -| (hicn.north -| 1214,0);
\draw[fk] (hombro.east |- 0,512) -| (hicn.north -| 1200,0);
\draw[fk] (hicsubg.west |- 0,504) -- (hicgrupo.east |- 0,504);
\draw[fk] (hicn.north -| 1277,0) -- (hicsubg.south -| 1277,0);
\draw[fk] (hlineasn.north -| 1323,0) -- (hic.south -| 1323,0);
\draw[fk] (hlineas.south -| 1361,0) -- (hiclineas.north -| 1361,0);
\draw[fkb] (spc.west |- 0,224) -| (tcrit.north -| 1014,0);
\draw[fkb] (spc.west |- 0,239) -| (ttend.north -| 1032,0);
\draw[fkb] (spc.west |- 0,273) -| (testado.north -| 1064,0);
\draw[fkb] (spc.west |- 0,296) -| (tcal.north -| 1075,0);
\draw[fk] (spc.west |- 0,322) -| (tcrit.north -| 1022,0);
\draw[fk] (spc.west |- 0,332) -| (ttend.north -| 1042,0);
\draw[fk] (spc.west |- 0,345) -| (testado.north -| 1084,0);
% ---------------- FK labels
\fkl{62}{243}{FK_PRN_EPRNHIC_PYA_MED_PYA}
\fkl{182}{257}{FK_PRN_EPRNESPE_PYA_MED_PYA}
\fkl{66}{383}{FK_PRN_EPRN_PYA_MED_EPRNPYA}
\fkl{71}{594}{FK_PRN_EPRNESPACIO_PYA_EPRN}
\fkl{351}{154}{FK_PRN_EPRNESP_OTRAAREAS_OAS}
\fkl{517}{121}{FK_PRN_EPRNESP_CINEGE_TCINEGE}
\fkl{439}{91}{FK_PRN_TTERRENO_CINE_TTIPO}
\fkl{466}{211}{FK_PRN_EPRNESP_ARBOLSIN_TARB}
\fkl{352}{243}{FK_PRN_EPRNESP_LEGAL_LEGAL}
\fkl{324}{201}{FK_PRN_EPRNESPBIBLIO_BIBLIO}
\fkl{396}{390}{FK_PRN_EPRNESP_TITU_SUELO_TITU}
\fkl{307}{516}{FK_PRN_EPRNESP_ESTR_UNIDADT}
\fkl{321}{603}{FK_PRN_EPRNESP_CARTO_EPRN}
\fkl{384}{380}{FK_PRN_EPRNESPACIO_NORMA_EPRN}
\fkl{1512}{119}{FK_PRN_EPRNESP_OTRAE_SOTRA}
\fkl{1300}{76}{FK_PRN_SPCESPBIBLIO_SPCESP}
\fkl{1496}{96}{FK_PRN_SPCESPBIBLIO_TBIBLIO}
\fkl{1450}{266}{FK_PRN_SPCAGRU_PYA_MED_SPCPYA}
\fkl{1690}{308}{FK_PRN_SPCESPECIE_MED_TMED}
\fkl{1700}{270}{FK_PRN_SPCESPAGRU_PYAMED_TMED}
\fkl{1655}{387}{FK_PRN_SPCESPECIE_PYAMED_TMED}
\fkl{1443}{383}{FK_PRN_SPCESP_PYAMED_SPCPYA}
\fkl{1447}{457}{FK_PRN_SPCESPECIE_LINEAS_SLIN}
\fkl{1705}{430}{FK_PRN_HICHABITAT_IND_TIND}
\fkl{1740}{462}{FK_PRN_SPCESPECIE_IND_TIND}
\fkl{1719}{495}{FK_PRN_SPCESPECIE_IND_TPRO}
\fkl{1724}{506}{FK_PRN_HICHABITAT_IND_TPRO}
\fkl{1611}{558}{FK_PRN_HICHABITATBIBLIO_TBIBLI}
\fkl{1483}{569}{FK_PRN_HICHABITAT_BIB_HICH}
\fkl{1379}{606}{FK_PRN_HICHABITAT_OBJ_HICH}
\fkl{1379}{649}{FK_PRN_HICHABITAT_AGRU_HICH}
\fkl{1496}{678}{FK_PRN_HICHABITAT_MED_HICH}
\fkl{1400}{689}{FK_PRN_HICHABITAT_PYA_HICH}
\fkl{1400}{706}{FK_PRN_HICAGRU_PYA_HICHABITAT}
\fkl{1507}{759}{FK_PRN_HICAGRU_PYA_MED_HHAPYA}
\fkl{1624}{728}{FK_PRN_HICHAB_PYA_MED_HICPYA}
\fkl{1730}{671}{FK_PRN_HICHABITAT_MED_TMED}
\fkl{1838}{700}{FK_PRN_TMEDIDA_TVALORES2000}
\fkl{1838}{713}{FK_PRN_TMEDIDA_TMEDIDA_TVALOR}
\fkl{1838}{737}{FK_PRN_TMEDIDA_TMEDIDA_TESPACIO}
\fkl{1838}{753}{FK_PRN_TMEDIDA_AMBITO}
\fkl{1830}{801}{FK_PRN_TMEDIDA_TOBJETIVO}
\fkl{1749}{797}{FK_PRN_TMEDIDA_TMEDIDA_UE}
\fkl{1775}{842}{FK_PRN_TMEDUE_TGRUPO_MEDUE}
\fkl{1921}{824}{FK_PRN_TOBJETIVO_TGOBJETIVO}
\fkl{1624}{838}{FK_PRN_HICHABAGRU_PYAMED_TMED}
\fkl{1361}{819}{FK_PRN_HICHABITAT_LINEAS_HLIN}
\fkl{1348}{769}{FK_PRN_HICHABITAT_LINEAS_HIC}
\fkl{1144}{643}{FK_PRN_HICHABITAT_TCRITERIO}
\fkl{1144}{666}{FK_PRN_HICHABITAT_TENDE_ESFU}
\fkl{1144}{678}{FK_PRN_HICHABITAT_TENDE_AREA}
\fkl{1133}{689}{FK_PRN_HICHABITAT_TENDE_REGC}
\fkl{1145}{710}{FK_PRN_HICHABITAT_ESTADO_AREA}
\fkl{1145}{720}{FK_PRN_HICHABITAT_ESTADO_ESFU}
\fkl{1145}{734}{FK_PRN_HICHABITAT_ESTADO_REGC}
\fkl{1082}{753}{FK_PRN_HICHABITAT_ESTADO_PEFU}
\fkl{1256}{774}{FK_PRN_HICHABITAT_CONDGEST_HIC}
\fkl{1163}{814}{FK_PRN_HICHABITAT_TAGRUPACION}
\fkl{1173}{826}{FK_PRN_HICHABITAT_AGRU_TAGR}
\fkl{1250}{849}{FK_PRN_TPYAMEDUE_TMEDUE}
\fkl{1102}{888}{FK_PRN_DIRECTRICES_MED_TMED}
\fkl{1000}{895}{FK_PRN_TELEMENTO_CLAVE_AGRU}
\fkl{1052}{793}{FK_PRN_TAGRUPACION_SUPERAGRU}
\fkl{965}{814}{FK_PRN_TAGRUPACION_PYA_AGRU}
\fkl{895}{768}{FK_PRN_TAGRUPACION_PYA_TPYA}
\fkl{922}{711}{FK_PRN_TPYA_TPYAUE}
\fkl{948}{659}{FK_PRN_TPYAUE_TGRUPO_PYAUE}
\fkl{779}{775}{FK_PRN_EPRNESP_AREAS_AREAS}
\fkl{716}{807}{FK_PRN_EPRNESP_PLAN_TPLA}
\fkl{549}{682}{FK_PRN_EPRNESP_PROV_EPRN}
\fkl{534}{699}{FK_PRN_EPRNESPACIO_PYAUE_PYAUE}
\fkl{321}{715}{FK_PRN_EPRNESP_PLANURB_PUR}
\fkl{364}{723}{FK_T_PRN_EP_FK_PRN_EP_T_PRN_EP}
\fkl{473}{752}{FK_PRN_EPRNESP_MUP_TMUP}
\fkl{348}{803}{FK_PRN_EPRNESP_PLANURB_MUNI}
\fkl{485}{827}{FK_PRN_EPRNESP_MONTE_TMONTE}
\fkl{570}{788}{FK_PRN_EPRNESP_MUP_EPRN}
\fkl{583}{762}{FK_PRN_EPRNESP_DIR_EPRN}
\fkl{620}{742}{FK_PRN_EPRNESP_PLAN_EPRN}
\fkl{605}{856}{FK_PRN_EPRNESP_DIR_TDIR}
\fkl{608}{904}{FK_PRN_DIRECTRICES_TCLASE_DIR}
\fkl{734}{323}{FK_PRN_EPRNESP_ESPECIE_EPRN}
\fkl{683}{373}{FK_PRN_EPRNESP_FINT_EPRN}
\fkl{619}{391}{FK_PRN_EPRNESP_OTRAE_EPRN}
\fkl{600}{400}{FK_PRN_EPRNESP_TITU_SUELO_EPRN}
\fkl{673}{408}{FK_PRN_EPRNESP_ZHC_EPRN}
\fkl{591}{437}{FK_PRN_EPRNESP_HIC_EPRN}
\fkl{690}{452}{FK_PRN_EPRNESP_VP_EPRN}
\fkl{578}{462}{FK_PRN_EPRNESP_USO_EPRN}
\fkl{868}{352}{FK_PRN_EPRNESP_FINT_TFINT}
\fkl{868}{400}{FK_PRN_EPRNESP_ZHC_TZHC}
\fkl{868}{448}{FK_PRN_EPRNESP_VP_TVIA}
\fkl{796}{485}{FK_PRN_EPRNESP_TTIPOLOGIA_GEO}
\fkl{796}{500}{FK_PRN_EPRNESP_TTIPOLOGIA_FUN}
\fkl{872}{575}{FK_PRN_EPRNESP_RELO_ESP}
\fkl{952}{586}{FK_PRN_PBG_HIC_HICHABITAT}
\fkl{1153}{478}{FK_PRN_HICHABITAT_TERMO_HICH}
\fkl{1153}{526}{FK_PRN_HICHABITAT_OMBRO_HICH}
\fkl{1215}{520}{FK_PRN_HICSUBGRUPO_GRUPO}
\fkl{1150}{546}{FK_PRN_HICHABITAT_TFUENTE}
\fkl{1144}{561}{FK_PRN_SPCESPECIE_TLITOL}
\fkl{1144}{577}{FK_PRN_HICHABITAT_TLITOL}
\fkl{1155}{595}{FK_PRN_HICHABITAT_TTOP}
\fkl{1144}{623}{FK_PRN_HICHABITAT_TCALIDAD}
\fkl{1068}{319}{FK_PRN_SPCESPECIE_CRI_TPO}
\fkl{1084}{329}{FK_PRN_SPCESPECIE_TEN_TPO}
\fkl{1070}{342}{FK_PRN_SPCESPECIE_EST_TPO}
\fkl{1086}{91}{FK_PRN_SPCOMBRO_SPCESP}
\fkl{1091}{157}{FK_PRN_SPCTERMO_SPCESP}
\fkl{872}{116}{FK_PRN_PBG_REPOSITORIO_DOC}
\fkl{1070}{221}{FK_PRN_SPCESPECIE_CRI_AREA}
\fkl{1080}{236}{FK_PRN_SPCESPECIE_TEN_AREA}
\fkl{1080}{270}{FK_PRN_SPCESPECIE_EST_AREA}
\fkl{1042}{285}{FK_PRN_EPRNESP_ESPACIO_SPC}
\fkl{1082}{299}{FK_PRN_SPCESPECIE_CAL_TPO}
\fkl{780}{257}{FK_PRN_EPRNESP_ESPACIO_DAT_ESP}
\fkl{1290}{118}{FK_PRN_SPCESPECIE_GTAXON}
\fkl{1290}{134}{FK_PRN_SPCESPEC_MUN_AMELIB}
\fkl{1290}{149}{FK_PRN_SPCESPEC_EUR_AMELIB}
\fkl{1290}{166}{FK_PRN_SPCESPEC_ESP_AMELIB}
\fkl{1290}{176}{FK_PRN_SPCESPEC_SIBLIAREA}
\fkl{1286}{212}{FK_PRN_SPCESPEC_AGRU_SPCESP}
\fkl{1286}{262}{FK_PRN_SPCAGRU_PYA_SPCESP}
\fkl{1286}{310}{FK_PRN_SPCESPECIE_MED_SPC}
\fkl{1280}{349}{FK_PRN_SPCESPECIE_OBJ_SPC}
\fkl{1280}{388}{FK_PRN_SPCESPECIE_PYA_SPC}
\fkl{1280}{424}{FK_PRN_SPCESPECIE_CONDGEST}
\fkl{1280}{461}{FK_PRN_SPCESPECIE_LINEAS_S}
\fkl{1286}{534}{FK_PRN_HICHABITAT_SUBG}
\end{pgfonlayer}
\end{tikzpicture}
\end{document}
